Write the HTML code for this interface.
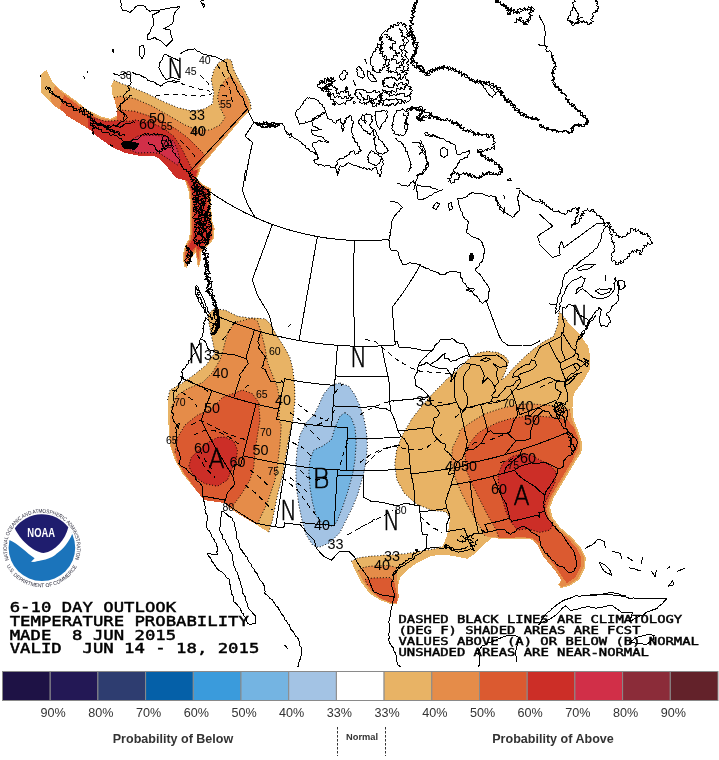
<!DOCTYPE html><html><head><meta charset="utf-8"><title>6-10 Day Outlook Temperature Probability</title>
<style>html,body{margin:0;padding:0;background:#fff}svg{display:block}.l{fill:none;stroke:#000;stroke-width:1;stroke-linejoin:round;stroke-linecap:round}.k{fill:#000;stroke:#000;stroke-width:1}.k2{fill:none;stroke:#000;stroke-width:3;stroke-linecap:round;stroke-linejoin:round}.d{fill:none;stroke:#000;stroke-width:1;stroke-dasharray:5 4}.o{fill:none;stroke:#000;stroke-width:1;stroke-dasharray:1 2}.lab{font-family:"Liberation Sans",sans-serif;fill:#000}.bigl{font-family:"DejaVu Sans Light","DejaVu Sans","Liberation Sans",sans-serif;font-weight:200;fill:#000;stroke:#000;stroke-width:0.6}.mono{font-family:"DejaVu Sans Mono","Liberation Mono",monospace;font-weight:normal;fill:#000;stroke:#000;stroke-width:0.45}.lg{font-family:"Liberation Sans",sans-serif;fill:#333}</style></head><body>
<svg width="719" height="760" viewBox="0 0 719 760">
<rect width="719" height="760" fill="#fff"/>
<defs><clipPath id="mapclip"><rect x="0" y="0" width="719" height="667"/></clipPath></defs>
<g clip-path="url(#mapclip)"><g shape-rendering="crispEdges">
<path d="M213.75,308.75 L225,310 L237.5,316.25 L250,318 L265,318.75 L271.25,325 L276.25,335 L283.75,346.25 L290,357.5 L293,370 L294.5,385 L295,400 L293,420 L290,432 L287.5,445 L283.75,470 L277.5,495 L272.5,520 L268.75,532.5 L255,523.75 L240,515 L228.75,507.5 L225,502.5 L203.75,499.5 L193.75,487.5 L182.5,473.75 L175,460 L170,445 L168.75,430 L168,415 L167.5,400 L170,390 L181.25,383.75 L193.75,375 L206.25,365 L215,352.5 L211.25,335 L207.5,315Z" fill="#e8b365"/>
<path d="M252.5,318 L257.5,321.25 L261.25,332.5 L265,347.5 L267.5,362.5 L272.5,375 L277.5,387.5 L280,402.5 L278.75,420 L281.25,425 L280,445 L277.5,465 L275,480 L267.5,502.5 L257.5,523.75 L255,523.75 L240,515 L228.75,507.5 L225,503 L203.75,500 L193.75,486.25 L183.75,473.75 L176.25,461.25 L171.25,447.5 L169.5,435 L169.5,425 L171.25,407.5 L177.5,395 L187.5,388.75 L202.5,382.5 L212.5,372.5 L220,360 L223.75,347.5 L227.5,332.5 L235,322.5Z" fill="#e58c49"/>
<path d="M242.5,390 L252.5,393.75 L258.75,402.5 L260,420 L257.5,435 L255,452.5 L253.75,467.5 L250,480 L242.5,492.5 L236.25,501.25 L231.25,507.5 L225,503 L203.75,500 L193.75,487 L184.5,473.75 L177.5,461.25 L175,452.5 L177.5,437.5 L185,425 L197.5,415 L210,410 L222.5,397.5Z" fill="#db5a30"/>
<path d="M217.5,437.5 L225,437 L233.75,441.25 L237.5,450 L236.25,460 L231.25,470 L227.5,480 L217.5,486.25 L205,483.75 L193.75,476.25 L188.75,466.25 L191.25,457.5 L200,448.75 L210,441.25Z" fill="#cc2e27"/>
<path d="M340,383 L348.8,386.2 L355,395 L360,406.2 L363.8,417.5 L366.2,430 L367.5,445 L366.2,460 L363.8,472.5 L361.2,482.5 L357.5,495 L352.5,507.5 L346.2,520 L340,532.5 L330,542.5 L318.8,547.5 L312.5,545 L306.2,535 L302.5,522.5 L298.8,505 L296.2,485 L295.8,467.5 L297,450 L300,435 L306.2,422.5 L313.8,415 L318.8,405 L323.8,393.8 L331.2,385Z" fill="#a3c3e4"/>
<path d="M345,412.5 L351.2,417.5 L355,427.5 L356.2,442.5 L355,460 L352.5,475 L347.5,492.5 L342.5,507.5 L337.5,520 L333.8,526.2 L323.8,525 L316.2,516.2 L312.5,502.5 L310,487.5 L308.8,472.5 L310,460 L313.8,450 L322.5,446.2 L331.2,440 L335,427.5 L340,416.2Z" fill="#74b4e2"/>
<path d="M559,311 L567.5,321.5 L578.5,333 L588,346 L590.5,358 L589.5,370 L582.5,382 L573.75,393.75 L572.5,407.5 L573.75,420 L578.75,432.5 L582.5,443.75 L581.25,452.5 L576.25,460 L568.75,472.5 L561.25,485 L553.75,497.5 L550,507.5 L552.5,517.5 L560.2,527.5 L571.9,537.5 L580.8,547.5 L585.8,557.5 L585,567.5 L579.5,579.5 L569.5,585.8 L560.8,588.2 L558.2,584.5 L562,579.5 L555.8,570 L545,557.5 L537.5,545 L532.5,539.7 L522.5,538.5 L510,539.2 L497.5,538.5 L492.5,537.5 L485,543.75 L475,553.75 L467.5,558.75 L455,556.25 L442.5,554.5 L430,556.25 L417.5,562.5 L407.5,570 L400,577.5 L397.5,587.5 L398.75,597.5 L396.25,604.5 L390,603.75 L380,600 L370,593.75 L361.25,582.5 L355,570 L351.25,561.25 L357.5,558 L370,556.25 L387.5,555 L405,553.75 L420,551.25 L435,548.75 L442.5,546.25 L446.25,537.5 L448.75,527.5 L450,518 L446,511.8 L432,510.3 L416.7,504.2 L404.5,493.5 L396.8,479.7 L394.7,464.4 L396.8,449.1 L403,433.8 L412.1,418.5 L422.8,404.7 L435.1,391 L447.3,378.7 L459.6,368 L467.5,360 L477.5,353 L487.5,351.25 L497.5,352.5 L505,356.25 L508.75,361.25 L506.25,370 L501.25,380 L506.25,376.25 L513.75,367.5 L522.5,358.75 L532.5,350 L542.5,342.5 L553.75,336.25 L557.5,325Z" fill="#e8b365"/>
<path d="M570,410 L560,406.25 L545,405 L530,403.75 L515,405 L500,408.75 L485,413.75 L472.5,421.25 L460,430 L458.75,435 L452.5,447.5 L451.25,462.5 L455,477.5 L461.25,492.5 L468.75,507.5 L477.5,522.5 L485,536.25 L497.5,537.7 L510,538.2 L522.5,537.7 L532,538.7 L537,544.5 L544,557.5 L555,570.5 L561.5,580 L559.5,584.5 L561,587 L569,584.5 L578,578.5 L583.5,567 L584,557.5 L579.5,548.5 L571,538.5 L558.9,528.5 L551,518 L548.5,507.5 L552,497.5 L559.5,485 L567,472.5 L574.5,460 L579.5,452 L580.5,443.75 L577,432.5 L572,420Z" fill="#e58c49"/>
<path d="M567.5,420 L555,417.5 L540,416.25 L525,416.25 L510,418.75 L497.5,422.5 L485,428.75 L478,433 L470,442.5 L465,455 L466.25,470 L472.5,485 L480,500 L487.5,515 L496.25,530 L498.75,537.7 L510,537.7 L522.5,537.2 L532.5,538.2 L540,543.75 L547.5,556.25 L557,568.8 L563.2,578.2 L567,583.2 L575.8,577 L580.8,566.2 L581.5,557.5 L577,548.8 L568.2,538.8 L556.7,528.8 L548.75,518.75 L546.25,508.75 L550,497.5 L557.5,485 L565,472.5 L572.5,460 L577.5,448.75 L577.5,437.5 L573.75,427.5Z" fill="#db5a30"/>
<path d="M522.5,453.75 L512.5,456.25 L502.5,463.75 L498,475 L498.75,487.5 L502.5,500 L506.25,512.5 L511.25,522.5 L517.5,530 L527.5,528.75 L540,532.5 L550,530 L552.5,525 L548.75,518.75 L544.5,512.5 L545,502.5 L550,492.5 L555,482.5 L556,472 L550,465 L540,460 L531.25,455Z" fill="#cc2e27"/>
<path d="M361.2,568 L370,566.2 L387.5,565.5 L395.5,567 L397,575 L398,587.5 L398.8,597.5 L396.5,603.5 L391.2,603 L381.2,599 L372,593 L363.8,582.5 L358,571.2Z" fill="#e58c49"/>
<path d="M365,579.5 L372.5,578 L390,577.5 L394.5,582.5 L396.5,592.5 L397.5,602.5 L390,602.5 L380,598 L372.5,591.2 L367.5,585Z" fill="#db5a30"/>
<path d="M41.25,73.75 L46.25,70 L52.5,82.5 L62.5,91.25 L75,100 L87.5,110 L100,116.25 L110,118.75 L117.5,115 L116.25,105 L112.5,95 L111.25,85 L113.75,80 L120,83 L132.5,87.5 L147.5,93.75 L162.5,101.25 L177.5,107.5 L192.5,111.25 L205,108.75 L212.5,103.75 L213.75,92.5 L211.25,80 L213.75,70 L218.75,62.5 L226.25,58.75 L231.25,60 L233.75,70 L238.75,80 L245,91.25 L250,101.25 L251.25,108.75 L245,115 L195,173.75 L201.3,166.8 L197,178.8 L204.7,185.6 L210.7,188.2 L210.7,202.7 L212.4,221.5 L214.6,228.4 L214.1,238.6 L208.1,245.5 L201.3,252.3 L200.4,262.6 L197.9,268.5 L197,260.9 L195.3,252.3 L191,259.1 L186.8,267.7 L184.2,266.8 L182.5,255.7 L185,245.5 L189.3,238.6 L190.2,225 L190.2,204.4 L188.5,190.8 L184.2,178.8 L177.5,175 L167.5,162.5 L160,155 L152.5,152.5 L137.5,152.5 L125,150 L112.5,143.75 L97.5,132.5 L82.5,122.5 L67.5,113.75 L52.5,103.75 L41.25,92.5Z" fill="#e8b365"/>
<path d="M55,86 L62.5,92.5 L75,101 L87.5,111 L100,117.5 L110,120 L117.5,117 L116.5,108 L114,97.5 L120,96.25 L135,98.75 L152.5,106.25 L170,116.25 L185,125 L197.5,130 L210,130 L220,125 L225,117.5 L220,107.5 L217.5,97.5 L220,87.5 L225,80 L231.25,76.25 L237.5,82 L243.5,92 L248.5,101.5 L249.5,108.5 L244,114.5 L195,172.5 L200,167.5 L196,178.8 L204,186 L209.7,188.7 L209.7,202.7 L211.4,221.5 L213.6,228.4 L213.1,238.2 L207.5,244.8 L200.5,251.8 L199.6,262 L198,266 L197.5,260 L195.5,250 L190.5,258 L186.5,266 L185,265.5 L183.5,255.7 L186,245.5 L190.3,238.6 L191.2,225 L191.2,204.4 L189.5,190.8 L185,179.5 L177,176 L167,163.5 L159.5,156 L152.5,153.5 L137.5,153.5 L125,151 L112,144.5 L97,133.5 L82,123.5 L67,114.5 L53,105 L50,98Z" fill="#e58c49"/>
<path d="M64,95 L75,103 L87.5,113 L100,119.5 L110,122 L117,119.5 L116.5,111.5 L120,110 L135,111.25 L150,116.25 L165,122.5 L177.5,130 L187.5,137.5 L195,145 L202.5,152.5 L205,156 L194,171.5 L199,168.5 L195.5,178.8 L203.5,186.5 L208.7,189.2 L208.7,202.7 L210.4,221.5 L212.6,228.4 L212.1,237.8 L206.8,244.2 L199.5,251 L198.6,259 L197.8,259 L195.8,248 L190,256 L187,262 L185.5,261 L184.5,255.7 L187,245.5 L191.3,238.6 L192.2,225 L192.2,204.4 L190.5,190.8 L186,180 L176.5,177 L166.5,164.5 L159,157 L152.5,154.5 L137.5,154.5 L125,152 L111.5,145.5 L96.5,134.5 L81.5,124.5 L66.5,115.5 L60,108Z" fill="#db5a30"/>
<path d="M88,116 L92.5,117.5 L105,121.25 L117.5,120.5 L130,121.25 L135,120 L150,122.5 L162.5,127.5 L173.75,136.25 L181.25,147.5 L186.25,157.5 L191.25,167.5 L193,171 L197.5,169.5 L194.5,178.8 L202.5,187 L207.2,189.8 L207.2,202.7 L208.9,221.5 L211,228.4 L210.5,237 L205.5,243 L198,250 L196.5,246 L192,250 L189.5,255 L187.5,252 L189,245.5 L192.8,238.6 L193.7,225 L193.7,204.4 L192,190.8 L187.5,181 L176,178 L166,165.5 L158.5,158 L152.5,155.5 L137.5,155.5 L125,153 L111,146.5 L96,135.5 L88,128Z" fill="#cc2e27"/>
<path d="M137.5,136.25 L150,135 L165,136.25 L173.75,141.25 L177.5,150 L180,160 L177.5,165 L170,160 L160,153.5 L152.5,152.5 L137.5,153 L127.5,148.75 L130,141.25Z" fill="#d12f48"/>
</g>
<path class="o" d="M167.5,400 L170,390 L181.25,383.75 L193.75,375 L206.25,365 L215,352.5 L211.25,335 L207.5,315 L213.75,308.75 L225,310 L237.5,316.25 L250,318 L265,318.75 L271.25,325 L276.25,335 L283.75,346.25 L290,357.5 L293,370 L294.5,385 L295,400 L293,420 L290,432 L287.5,445 L283.75,470 L277.5,495 L272.5,520 L268.75,532.5"/>
<path class="o" d="M171.25,407.5 L177.5,395 L187.5,388.75 L202.5,382.5 L212.5,372.5 L220,360 L223.75,347.5 L227.5,332.5 L235,322.5 L252.5,318 L257.5,321.25 L261.25,332.5 L265,347.5 L267.5,362.5 L272.5,375 L277.5,387.5 L280,402.5 L278.75,420 L281.25,425 L280,445 L277.5,465 L275,480 L267.5,502.5 L257.5,523.75"/>
<path class="o" d="M175,452.5 L177.5,437.5 L185,425 L197.5,415 L210,410 L222.5,397.5 L242.5,390 L252.5,393.75 L258.75,402.5 L260,420 L257.5,435 L255,452.5 L253.75,467.5 L250,480 L242.5,492.5 L236.25,501.25 L231.25,507.5"/>
<path class="o" d="M217.5,437.5 L225,437 L233.75,441.25 L237.5,450 L236.25,460 L231.25,470 L227.5,480 L217.5,486.25 L205,483.75 L193.75,476.25 L188.75,466.25 L191.25,457.5 L200,448.75 L210,441.25 L217.5,437.5"/>
<path class="o" d="M340,383 L348.8,386.2 L355,395 L360,406.2 L363.8,417.5 L366.2,430 L367.5,445 L366.2,460 L363.8,472.5 L361.2,482.5 L357.5,495 L352.5,507.5 L346.2,520 L340,532.5 L330,542.5 L318.8,547.5 L312.5,545 L306.2,535 L302.5,522.5 L298.8,505 L296.2,485 L295.8,467.5 L297,450 L300,435 L306.2,422.5 L313.8,415 L318.8,405 L323.8,393.8 L331.2,385 L340,383"/>
<path class="o" d="M345,412.5 L351.2,417.5 L355,427.5 L356.2,442.5 L355,460 L352.5,475 L347.5,492.5 L342.5,507.5 L337.5,520 L333.8,526.2 L323.8,525 L316.2,516.2 L312.5,502.5 L310,487.5 L308.8,472.5 L310,460 L313.8,450 L322.5,446.2 L331.2,440 L335,427.5 L340,416.2 L345,412.5"/>
<path class="o" d="M450,518 L446,511.8 L432,510.3 L416.7,504.2 L404.5,493.5 L396.8,479.7 L394.7,464.4 L396.8,449.1 L403,433.8 L412.1,418.5 L422.8,404.7 L435.1,391 L447.3,378.7 L459.6,368 L467.5,360 L477.5,353 L487.5,351.25 L497.5,352.5 L505,356.25 L508.75,361.25 L506.25,370 L501.25,380 L506.25,376.25 L513.75,367.5 L522.5,358.75 L532.5,350 L542.5,342.5 L553.75,336.25 L557.5,325 L559,311 L567.5,321.5"/>
<path class="o" d="M351.25,561.25 L357.5,558 L370,556.25 L387.5,555 L405,553.75 L420,551.25 L435,548.75 L442.5,546.25"/>
<path class="o" d="M570,410 L560,406.25 L545,405 L530,403.75 L515,405 L500,408.75 L485,413.75 L472.5,421.25 L460,430 L458.75,435 L452.5,447.5 L451.25,462.5 L455,477.5 L461.25,492.5 L468.75,507.5 L477.5,522.5 L485,536.25"/>
<path class="o" d="M567.5,420 L555,417.5 L540,416.25 L525,416.25 L510,418.75 L497.5,422.5 L485,428.75 L478,433 L470,442.5 L465,455 L466.25,470 L472.5,485 L480,500 L487.5,515 L496.25,530 L498.75,537.7"/>
<path class="o" d="M522.5,453.75 L512.5,456.25 L502.5,463.75 L498,475 L498.75,487.5 L502.5,500 L506.25,512.5 L511.25,522.5 L517.5,530 L527.5,528.75 L540,532.5 L550,530 L552.5,525 L548.75,518.75 L544.5,512.5 L545,502.5 L550,492.5 L555,482.5 L556,472 L550,465 L540,460 L531.25,455 L522.5,453.75"/>
<path class="o" d="M358,571.2 L361.2,568 L370,566.2 L387.5,565.5 L395.5,567"/>
<path class="o" d="M367.5,585 L365,579.5 L372.5,578 L390,577.5 L394.5,582.5"/>
<path class="o" d="M113.75,80 L120,83 L132.5,87.5 L147.5,93.75 L162.5,101.25 L177.5,107.5 L192.5,111.25 L205,108.75 L212.5,103.75 L213.75,92.5 L211.25,80 L213.75,70 L218.75,62.5 L226.25,58.75 L231.25,60 L233.75,70 L238.75,80 L245,91.25 L250,101.25 L251.25,108.75"/>
<path class="o" d="M114,97.5 L120,96.25 L135,98.75 L152.5,106.25 L170,116.25 L185,125 L197.5,130 L210,130 L220,125 L225,117.5 L220,107.5 L217.5,97.5 L220,87.5 L225,80 L231.25,76.25"/>
<path class="o" d="M116.5,111.5 L120,110 L135,111.25 L150,116.25 L165,122.5 L177.5,130 L187.5,137.5 L195,145 L202.5,152.5 L205,156"/>
<path class="o" d="M88,116 L92.5,117.5 L105,121.25 L117.5,120.5 L130,121.25 L135,120 L150,122.5 L162.5,127.5 L173.75,136.25 L181.25,147.5 L186.25,157.5 L191.25,167.5 L193,171"/>
<path class="o" d="M137.5,136.25 L150,135 L165,136.25 L173.75,141.25 L177.5,150 L180,160 L177.5,165 L170,160 L160,153.5 L152.5,152.5 L137.5,153 L127.5,148.75 L130,141.25 L137.5,136.25"/>
<g shape-rendering="crispEdges">
<path class="l" d="M46.2,86.2 L45.6,88.3 L46.4,89.2 L49.9,87.9 L50.6,88.9 L49.1,91.8 L50.2,92.5 L51.2,93.3 L52.5,93.8 L54,93.9 L54.4,95.6 L55.5,96.3 L56.6,96.9 L58.6,96.2 L59.1,97.9 L60,98.8 L61.3,99.2 L61.6,101 L62.1,102.6 L63.3,103.2 L65.3,102.5 L66.6,102.9 L67.5,103.8 L69,103.9 L70.6,103.9 L71.5,104.7 L71.3,106.8 L72.7,107.1 L73.4,108.1 L73.1,110.4 L75,110 L76.2,110.3 L77.5,110.6 L78.9,109.6 L80.3,108.9 L81.4,110.3 L82.5,111.2 L84.4,110.9 L84.3,112.8 L84,115.1 L85.8,114.9 L88,114.2 L87.1,117.1 L88.3,117.6 L90,117.5 L90.4,119.1 L91,120.4 L92.4,120.8 L93.4,121.7 L95.5,121.2 L96.2,122.5 L96.8,124.8 L98,125.2 L100.5,122.7 L100.9,125.4 L102.5,125 L103.1,126.4 L104.7,126.3 L105.6,127.2 L106.8,127.8 L106.9,130 L108.9,129.3 L110,130 L110.8,131.7 L112.7,130.3 L113.3,132.7 L114.5,133.2 L116.3,131.9 L117.5,132.5 L118.6,133.4 L119.3,135.2 L120.9,135.2 L122.5,134.9 L124.2,134.6 L125,136.2"/>
<path class="l" d="M47.5,87.5 L49.2,87.7 L48.9,89.7 L49.9,90.5 L51.2,91.1 L52.7,91.4 L52.3,93.6 L53.2,94.6 L54.7,94.8 L55.7,95.7 L57.2,96 L57.5,97.5 L59.4,96.9 L59.8,98.6 L60.5,99.9 L62.5,99.3 L62.2,101.9 L64.2,101.1 L65.3,101.9 L66.7,102.1 L66,105.3 L67.5,105.4 L68.3,106.5 L70,106.2 L71,107.1 L72.9,106 L73.7,107.4 L74.5,108.5 L76.2,108 L76.2,110.9 L78.1,109.8 L79.6,109.8 L79.8,112.3 L81.9,110.9 L82.5,112.5 L82.8,114.3 L84.7,113.8 L85.5,114.8 L87,115 L87.7,116.1 L89.3,116 L90.6,116.4 L90.2,119.3 L92.4,118.3 L92.4,120.5 L94.5,119.7 L95,121.2 L95.4,123.1 L96.7,123.5 L98,123.8 L99.1,124.4 L100.6,124.5 L101.5,125.6 L103.5,124.5 L104.1,126.1 L104.7,127.7 L106.8,126.5 L107.5,128 L108.1,129.8 L109.3,130.2 L111,129.3 L112.2,129.7 L113.2,130.5 L114.5,130.8 L114.8,133.1 L116.7,131.9 L118.4,131.4 L119.4,132.1 L120,133.8"/>
<path class="l" d="M80,107.5 L80.3,109.2 L82.4,107.5 L83.4,107.6 L83.1,110.7 L85.1,109 L86.1,109.3 L86.4,111.1 L87.5,111.2 L88.7,111.6 L88.6,113.6 L90.7,112.7 L90.3,115.2 L92.4,114.4 L93,115.5"/>
<path class="l" d="M113.8,73.8 L115.8,74.4 L117.9,75 L120,75 L122.7,74.2 L125,72.5 L127.2,74.4 L130,75 L130,77.6 L130.1,80.1 L131.2,82.5 L129.9,84.9 L127.5,86.2 L128.8,88.1 L130,90 L127.5,91.1 L125.7,93.1 L123.8,95 L123.8,97.6 L125,100 L123.8,102.1 L121.7,103.4 L120,105 L119.1,107.1 L117.5,108.8 L119.1,110.1 L120.8,111.4 L122.5,112.5 L124.7,113.6 L126.2,115.5 L127.5,117.5 L125,120 L123.3,121.5 L120.9,121.9 L119.1,123.4 L117.5,125 L115.6,125.8 L113.4,125 L111.6,126.3 L109.5,125.8 L107.5,126.2 L105.4,126.6 L103.4,126.5 L101.6,124.9 L99.4,125.7 L97.5,125"/>
<path class="l" d="M132.5,72.5 L134.9,73.8 L137.3,74.7 L140,75 L141.9,76.2 L144,77.2 L146.1,78.1 L147.5,80 L149.9,81.1 L152.5,81.6 L155,82.5 L156.4,84.1 L158.5,84.8 L160,86.2 L162.1,85.3 L163.5,83.4 L165.9,82.9 L167.5,81.2 L169.9,82 L172.5,81.9 L175,82.5 L177.4,81.9 L179.8,81.2"/>
<path class="l" d="M179.8,61.2 L175,58.8 L171.6,57.3 L168.1,55.8 L165,53.8 L163.2,56.6 L162.1,59.9 L160,62.5 L158.8,67.5 L160.6,71.3 L162.5,75 L164.5,77.4 L166.2,80 L169.2,78.3 L172.5,77.5 L176.1,78.8 L179.8,80"/>
<path class="l" d="M120,0 L121.2,3.2 L121,6.8 L122.5,10 L126.4,10.8 L130,12.5 L133.3,9.6 L136.2,6.2 L139.2,5 L142.5,5 L145.2,6.8 L147.1,9.7 L150,11.2 L153.3,10.4 L156.7,10.6 L160,10 L163.3,9.3 L166.6,8.7 L169.9,8.1 L173.1,7 L176.6,7.3 L179.8,6.2"/>
<path class="l" d="M160,11.2 L156.3,13.1 L152.5,15 L153.1,18.3 L153.9,21.6 L153.8,25 L151.3,28.1 L150.2,32 L147.5,35 L147.5,40 L151.3,38.8 L155,37.5 L157.2,39.6 L160.3,40.3 L162.5,42.5 L166.2,46.2 L169.4,43.2 L172.5,40 L171.8,36.6 L170.2,33.5 L170,30 L166.9,29.6 L163.8,28.8 L166.8,27.4 L169.6,25.4 L172.5,23.8 L173.6,20.1 L173.7,16.2 L175,12.5 L177.1,9.7 L179.8,7.5"/>
<path class="l" d="M140,46.2 L143.8,45 L144.5,53.8 L142,58.8 L139.5,55 L140,46.2"/>
<path class="l" d="M112.5,50 L114,49.5 L113.2,53 L112.5,50"/>
<path class="l" d="M87,71.2 L88,72.5"/>
<path class="l" d="M83.2,76.2 L84.5,78"/>
<path class="l" d="M110.5,144.5 L112.5,146"/>
<path class="l" d="M92,129.5 L94,132.5"/>
<path class="l" d="M40,75 L40.8,76.2"/>
<path class="l" d="M180,53.8 L183.7,51.8 L187.5,50 L191.3,49.5 L195,48.8 L197.2,51 L200,52.1 L202.5,53.8 L205.8,54.6 L209.1,55.5 L212.5,56.2 L216.4,57.1 L220,58.8 L223.1,60.7 L226.2,62.5 L226.9,65.9 L227.5,69.3 L228.8,72.5 L231.2,76 L232.5,80 L234.3,83 L236.2,86 L236.8,89.6 L238.8,92.5 L240.2,95.2 L242.7,97.1 L243.8,100 L244.4,103.2 L245.7,106.1 L247.5,108.8 L248.6,112 L250,115 L251.8,118.8 L253.8,122.5 L257,122.7 L260,123.8 L263.9,123.7 L267.5,125 L271.2,125 L275,125 L278.7,123.8 L282.5,123.8 L284.2,126.7 L285,130 L287.8,132.9 L290,136.2"/>
<path class="l" d="M255,122.5 L256.5,123 L257.9,123.7 L259.4,124.3 L261.2,124 L262.5,125 L263.9,124 L265.5,124.3 L266.9,123.9 L268.6,124.5 L270,123.8 L271.4,124.6 L273,124.9 L274.5,125.3 L275.9,126 L277.5,126.2 L276,126.9 L274.5,126.6 L273,127.1 L271.4,126.1 L270.1,127.6 L268.5,126.5 L267.1,127.8 L265.5,126.9 L264,127.6 L262.5,127.5 L260.8,126.8 L259.4,125.3 L257.5,125 L259,123.8 L260.7,123.5 L262.7,124.4 L264.2,123.3 L265.7,122.3 L267.5,122.5 L268.9,123.5 L270.5,123.7 L272.3,122.6 L273.8,123.4 L275.4,123.2 L276.9,123.7 L278.4,124.4 L280,124.5"/>
<path class="l" d="M247.5,108.8 L188.8,172.5 L192.5,180 L195,189.8"/>
<path class="l" d="M253.8,122.5 L245,136.2 L252.5,142.5 L248.8,160 L246.2,175 L245.5,180.5"/>
<path class="l" d="M200,1.2 L203.8,0"/>
<path class="l" d="M201.2,2.5 L205,5 L203.8,7.5 L201.2,2.5"/>
<path class="l" d="M216.3,315.8 L222.3,318.3 L228.4,320.7 L234.5,323.1 L240.7,325.3 L246.9,327.4 L253.1,329.4 L259.4,331.3 L265.7,333.1 L272,334.7 L278.3,336.3 L284.7,337.7 L291.1,339.1 L297.6,340.3 L304,341.4 L310.5,342.4 L316.9,343.3 L323.4,344 L330,344.7 L336.5,345.2 L343,345.7 L349.5,346 L356.1,346.2 L362.6,346.2 L369.2,346.2 L375.7,346.1 L382.2,345.8 L388.8,345.4 L395.3,344.9"/>
<path class="l" d="M254.5,329.8 L250.7,342.1 L246.9,354.5 L246.5,358.8"/>
<path class="l" d="M246.5,358.8 L239.6,356.6 L232.7,354.3 L230.4,354.3 L221.6,353.6 L216.6,352.8 L212.3,350.2 L208.6,349.9 L207.1,346.2 L205.7,342.3 L204.1,340.5 L200.9,339.1"/>
<path class="l" d="M246.5,358.8 L248.2,363.6 L245.9,366.1 L243.1,370.5 L239.5,374.8 L240.5,376.7 L239.2,380 L233.7,397.9"/>
<path class="l" d="M260.7,331.7 L257.9,341.4 L259.4,344.8 L258.2,347.6 L262.4,352.9 L265.5,357.3 L263.7,361.6 L263.2,365.1 L261.4,367.8 L265.3,369.8 L268.6,377.4 L271,381.6 L274.7,381.9 L280.5,382.6 L281.8,380.8 L283.6,384"/>
<path class="l" d="M284.6,378.8 L282.6,388.8 L280.6,398.9 L278.7,409.1 L276.6,419.4 L284.4,420.8 L292.3,422.2"/>
<path class="l" d="M181.8,378.3 L188.9,381.5 L196.2,384.5 L203.5,387.4 L210.8,390.1 L218.2,392.8 L225.6,395.3 L233.1,397.7 L240.6,399.9 L248.1,402 L255.7,404 L263.3,405.8 L271,407.5 L278.7,409.1"/>
<path class="l" d="M284.6,378.8 L291.7,380.1 L298.8,381.3 L305.9,382.4 L313.1,383.3 L320.2,384.1 L327.4,384.8 L334.6,385.4"/>
<path class="l" d="M337.4,345.3 L336.7,355.2 L336,365.2 L335.3,375.3 L334.6,385.4 L333.9,395.6 L333.1,405.9 L332.4,416.3 L331.6,426.7"/>
<path class="l" d="M335.3,375.9 L342.8,376.3 L350.3,376.7 L357.8,376.9 L365.4,376.9 L372.9,376.8 L380.4,376.6 L388,376.2"/>
<path class="l" d="M333.1,405.9 L341.5,406.4 L349.9,406.8 L358.3,407 L366.7,407 L375.1,406.9 L379.7,408.3 L385,408 L388.9,410.4 L390.9,411.4"/>
<path class="l" d="M292.3,422.2 L300.1,423.3 L308,424.4 L315.8,425.3 L323.7,426.1 L331.6,426.7 L339.6,427.2 L347.5,427.6 L347.1,438.1 L356.2,438.3 L365.4,438.4 L374.5,438.3 L383.6,438 L392.7,437.5 L401.8,436.9"/>
<path class="l" d="M292.3,422.2 L290.6,432.6 L288.9,443.1 L287.2,453.7 L285.5,464.4 L283.6,476.6 L281.6,488.9 L279.6,501.4 L277.6,514 L275.6,526.8"/>
<path class="l" d="M347.1,438.1 L346.7,448.7 L346.4,459.5 L346,470.3"/>
<path class="l" d="M256,404.1 L253.5,414.2 L250.9,424.5 L248.3,434.8 L245.7,445.2 L243.1,455.7 L240.7,465.2 L234.8,464.8 L233.2,474.6 L232.6,475.6 L234.9,484.2 L227.5,492.7 L225.3,500.1"/>
<path class="l" d="M243.1,455.7 L251.7,457.8 L260.4,459.7 L269.1,461.5 L277.8,463.1 L286.6,464.5 L295.3,465.8 L304.1,467 L312.9,468 L321.8,468.8 L330.6,469.5 L339.5,470 L348.3,470.3 L357.2,470.5 L366.1,470.6 L374.9,470.5 L383.8,470.2 L392.7,469.8 L401.5,469.2 L410.3,468.4"/>
<path class="l" d="M211.9,390.6 L208.3,400.4 L204.7,410.3 L201.1,420.3 L206.7,431.4 L212.6,442.5 L219,453.5 L225.6,464.6 L232.6,475.6"/>
<path class="l" d="M202.8,495.9 L214,498.1 L225.3,500.1 L224,502.3 L234.4,509.5 L245.2,516.5 L256.1,523.3 L269.9,525.9 L283.8,528 L284.5,523 L300.6,525"/>
<path class="l" d="M300,522.4 L311.4,523.7 L322.8,524.6 L334.2,525.4 L334.9,512.7 L335.7,500.1 L336.4,487.6 L337.1,475.3 L337.7,469.9"/>
<path class="l" d="M337.1,475.3 L345.9,475.7 L354.8,475.9 L363.7,476 L363.7,497.4 L371.1,501.3 L381.3,502.2 L389.7,504.1 L397.2,505.9 L405.4,503.1 L415,505.2 L419.3,505.8 L419.9,511.9 L421.1,523.2 L422.3,534.6 L427.1,534 L426.6,543.4 L425.8,549.3"/>
<path class="l" d="M410.9,473.8 L413.7,485.7 L415,505.2"/>
<path class="l" d="M419.9,511.9 L433.4,510.4 L446.8,508.4"/>
<path class="l" d="M300.6,525 L308.6,534.9 L314.1,540 L316.4,548.3 L323,555.8 L331.4,560.1 L339.5,551.5 L348.6,551.3 L354,556.6 L358.5,564.3 L367.9,577.3 L373.4,591.6 L383.2,595.6 L394.7,596.4"/>
<path class="l" d="M410.3,468.4 L409.4,457.1 L408.4,445.9 L404.4,438.8 L401.8,436.9 L397.7,430.8 L396,423.6 L393.2,416.4 L390.9,411.4 L390.2,406.2 L389.5,401.1 L389.1,382.6 L388,376.2 L385.9,366.6 L383.5,355.7 L381.8,345.8"/>
<path class="l" d="M389.5,401.1 L397.5,400.5 L405.4,399.8 L413.4,399 L421.3,398 L429.1,396.8"/>
<path class="l" d="M397.7,431 L405.8,430.3 L413.8,429.4 L421.7,428.5 L429.7,427.3 L432.5,429.2"/>
<path class="l" d="M410.3,468.4 L410.9,473.8 L420.6,472.8 L430.3,471.6 L440,470.2 L449.7,468.7 L448.6,474.4 L454.6,473.3"/>
<path class="l" d="M418.2,365.5 L417.6,371.7 L414.1,377.2 L415.9,380.1 L415.8,385.7 L419.8,387.8 L425.6,392.2 L429.1,396.8 L431.7,404.8 L435,406.4 L439.7,413 L437.9,416.5 L433.8,418.2 L434.2,423.4 L432.5,429.2 L433.2,434.3 L437.5,439 L442.4,443.6 L445.7,444.1 L444.6,449.8 L449.2,453.3 L453.7,459.1 L457.5,461.9 L455.3,467.6 L454.6,473.3 L452.2,480.5 L451.2,485.1 L448,493.5 L445.5,501.8 L446.8,508.4 L450.1,515.9 L446.6,524.6 L446.1,531.6 L464.3,528.6 L467.7,537.3"/>
<path class="l" d="M469.9,481.6 L471.8,496.5 L473.7,511.7 L478.5,532.9"/>
<path class="l" d="M451.2,485.1 L460.4,483.5 L469.5,481.7 L478.6,479.7 L487.7,477.5 L496.7,475.2 L505.7,472.8 L514.6,470.1"/>
<path class="l" d="M492.8,476.2 L497.6,487.1 L502.5,498 L506.4,504 L509.7,518.4 L511.9,521.3 L524.8,518.3 L537.6,515 L539.9,517.3 L538.9,512.8 L544.3,511.5"/>
<path class="l" d="M509.7,518.4 L497.3,521.6 L484.9,524.5 L488.1,532"/>
<path class="l" d="M456.2,467.5 L467.8,465.2 L467.3,463.6 L476.7,461.7 L486.1,459.6 L495.4,457.3 L504.7,454.8 L513,452.3 L521.4,449.6 L531,446.4 L540.5,443 L550,439.5 L559.4,435.7 L568.8,431.8"/>
<path class="l" d="M521.4,449.6 L520.4,455.6 L515.8,458.8 L510.7,463.3 L506.2,466.9 L504,473.2"/>
<path class="l" d="M514.6,470.1 L520.9,465.9 L531.8,462.9 L533.6,464 L544.9,462.3 L558.2,468.5"/>
<path class="l" d="M514.6,470.1 L518,474.9 L523.2,479.1 L529.3,483 L535.5,486.9 L540,491.4 L544.9,495.1"/>
<path class="l" d="M457.5,461.9 L462.4,458.5 L465.3,451.3 L468.4,449.5 L473.6,449.4 L477.3,446.4 L482.3,441.8 L484.4,436.8 L488.2,431.4 L490.6,430.8 L494,433.7 L501.6,433.1 L507.9,433.5 L510.4,430.4 L512.3,425.3 L514.1,420.2 L517.3,415.7 L516.8,408.1 L516.6,405.5 L510.8,389.1"/>
<path class="l" d="M507.9,433.5 L515.8,440.8 L504.7,454.8"/>
<path class="l" d="M515.8,440.8 L522.9,441 L530.2,438.5 L530.9,430.2 L533.4,422.4 L537.3,416.3 L542.9,410.6"/>
<path class="l" d="M465.3,451.3 L467.4,440.9 L465.6,434.2 L462.9,421.7 L460.2,409.4"/>
<path class="l" d="M488,431.5 L484.4,418.1 L480.8,405"/>
<path class="l" d="M465.7,408.1 L480.7,404.3 L491,401.7"/>
<path class="l" d="M435,406.4 L445.8,404.5 L456.5,402.3"/>
<path class="l" d="M430,365.2 L440.6,368.9 L446.3,368.3 L447.3,369.6 L452.2,375.9"/>
<path class="l" d="M516.4,387.4 L517.4,390 L525.3,387 L533.3,383.8 L541.1,380.5 L548.9,377 L556.4,381 L555.1,386.3 L555.7,388.9 L561.2,392.1 L558.7,397.4 L557.5,399.7"/>
<path class="l" d="M516.6,405.5 L519.8,414.6 L528.9,411.3 L537.9,407.8 L546.8,404.1 L555.7,400.3 L561.9,412.3 L566.9,410.1"/>
<path class="l" d="M556.4,381 L563.7,381.6"/>
<path class="l" d="M527.8,411.7 L529.7,416.9 L532.9,412.9 L537.1,409 L540.3,408.2 L542.9,410.6 L549,412.1 L552.3,417.7 L559.2,418.8"/>
<path class="l" d="M549,342.6 L555.1,355.6 L560,363 L561.6,370.3 L564.8,377.5 L565.5,380.7"/>
<path class="l" d="M560.9,336.5 L561.9,342.9 L562,351 L565.5,360.4"/>
<path class="l" d="M560,363 L573.3,356.3 L575.8,353.2"/>
<path class="l" d="M561.6,370.3 L573.4,364.5 L576.4,363.2 L580.7,366.9"/>
<path class="l" d="M573.4,364.5 L577,371.2"/>
<path class="l" d="M575.6,351 L571.2,347.2 L562,332.3 L563.7,332 L564.2,324.1 L562.9,319.1 L562.5,307.1 L565.7,308.3 L568.3,304.7 L572.8,305.2 L578.8,314.8 L582.7,316.5 L587,319.2 L590.2,321.4"/>
<path class="l" d="M562,332.3 L560.9,336.5 L554.1,340.1 L547.2,343.5 L540.3,346.9 L534.7,357.3"/>
<path class="l" d="M195.5,180.8 L199.1,183.7 L202.8,186.6 L206.6,189.4 L210.4,192.1 L214.3,194.8 L218.2,197.4 L222.2,199.9 L226.2,202.4 L230.2,204.7 L234.3,207.1 L238.4,209.3 L242.6,211.5 L246.8,213.6 L251,215.6 L255.3,217.5 L259.6,219.4 L263.9,221.2 L268.3,222.9 L272.7,224.5 L277.1,226.1 L281.5,227.6 L286,229 L290.5,230.3 L295,231.6 L299.6,232.7 L304.1,233.8 L308.7,234.8 L313.3,235.8 L317.9,236.6 L322.5,237.4 L327.2,238.1 L331.8,238.7 L336.5,239.2 L341.2,239.6 L345.9,240 L350.5,240.3 L355.2,240.5 L359.9,240.6 L364.6,240.6 L369.3,240.5 L374,240.4 L378.7,240.2 L383.3,239.9 L388,239.5"/>
<path class="l" d="M272.4,224.5 L269.1,233.5 L265.8,242.7 L262.5,251.8 L259.1,261 L255.7,270.3 L252.3,279.6 L255.2,288.8 L257.8,295.9 L263.1,304.7 L267,310.9 L269.8,316.8 L271.7,324.4 L273.1,335"/>
<path class="l" d="M317.4,236.5 L315.8,245.7 L314.1,255 L312.5,264.3 L310.9,273.6 L309.2,283 L307.5,292.5 L305.8,302 L304.2,311.5 L302.5,321.1 L300.7,330.8 L299,340.6"/>
<path class="l" d="M354.5,240.4 L354.1,250.2 L353.8,260.1 L353.4,270 L353.1,280 L353.3,289.6 L353.5,299.2 L353.8,308.8 L354.1,321.2 L354.5,333.6 L354.9,346.1"/>
<path class="l" d="M395.3,344.9 L394.2,332.3 L393.2,319.9 L392.1,307.5 L397.4,300.5 L402.5,293.5 L407.4,286.3 L411.9,279.2 L416.3,272 L420.4,264.8"/>
<path class="l" d="M539.8,340.9 L531.7,345.3 L522.2,345 L509,346 L502,341.1 L499.3,336.3 L494.7,324.1 L490.3,312.1 L485.8,300.1"/>
<path class="l" d="M255.1,217.5 L251,210.4 L247.1,203.3 L244.7,196.9 L242.5,190.4 L244.1,180.7 L245.3,170.7"/>
<path class="l" d="M205.2,317.6 L205.2,320.1 L203.7,322.2 L204.2,324.4 L203.6,326.5 L203,328.5 L203.7,330.7 L203,332.8 L202.8,335.1 L201.8,337.1 L200.6,339 L199.3,341.2 L199.4,343.9 L198,346.1 L196.6,347.9 L195.6,350 L195.2,352.5 L193.6,354.2 L192.4,356 L191.3,357.9 L190.2,359.7 L188.2,361 L188.2,363.6 L186.5,365.1 L185.2,367.8 L182.7,369.6 L181.8,371.7 L182.4,374 L182.5,376.2 L181.8,378.3 L181.3,380.3 L180.4,382.3 L178.7,383.8 L179,386.2 L177.8,388 L176.7,389.8 L174.9,391 L173.6,392.6 L173.6,394.8 L173,397 L173.3,399.2 L174.2,401.4 L174,403.6 L173.8,405.8 L172.2,407.6 L172.1,409.8 L171.6,412.2 L173.5,414.2 L172.7,416.6 L172.8,418.8 L173.7,421 L175.1,423 L176.8,424.7 L175.6,427.7 L176.5,430 L176,432.5 L176.9,434.7 L176.4,436.7 L176.7,438.7 L175.4,441.7 L176.5,443.7 L176.4,446.1 L177.6,448 L177.8,450.3 L179.4,452.3 L179.8,454.8 L180.4,457.2 L180.2,459.3 L179.6,461.4 L179,463.4 L180.1,465.4 L182.1,466.6 L184.1,467.8 L186.5,468.3 L187.3,470.4 L188.6,472.1 L190.6,473.3 L192.6,475.4 L195.5,476.2 L195.5,479.1 L197.2,481 L199.4,482.2 L200.7,484 L201.9,485.8 L202.5,487.9 L202.2,490.8 L202.2,493.7 L202.8,495.9 L203.2,498.2 L203.5,500.6 L204.9,502.7 L204.7,505.1 L205.6,507.1 L204.8,509.5 L205.7,511.5 L206,513.6 L207.3,515.6 L207.1,517.8 L207.2,520.2 L206.3,522.5 L206.7,524.9 L206.9,527.3 L207.3,529.5 L209.5,530.7 L210.2,532.7 L211.2,534.6 L212.1,537 L213.8,538.9 L214.6,541.3 L216.3,543.2 L216.5,545.5 L217.5,547.6 L217.8,549.9 L216.7,552.3 L217.7,554.5 L215.7,554.9 L213.7,554.7 L211.7,554.3 L209.7,553.5 L207.7,553.7 L208.3,555.8 L209.9,557.3 L210.9,559.1 L211.6,561.2 L213.3,562.6 L214.1,564.6 L215.5,566 L216.5,567.8 L217.8,569.4 L219.2,570.8 L221.4,571.7 L223,573.2 L224.6,574.6 L225.7,576.7 L227.4,578.1 L229.3,579.3 L229,581.7 L229.7,584 L230.9,586.2 L230.5,588.7 L231.3,590.9 L231,593.2 L232.5,595 L233.4,597 L233.3,599.3 L233.6,601.4 L235.3,603 L237,604.7 L238.6,606.4 L240,608.3 L241,610.5 L241.5,612.6 L243.6,613.8 L243.8,616 L245.4,617.5 L246.4,619.3 L246.5,621.6 L247.9,623.2 L249.9,625 L252.6,623.8 L255.5,623.2 L255.2,621.1 L255.8,619.1 L256,617 L254.7,615 L252.9,613.4 L251.8,611.3 L249.7,610 L248.3,608.1 L247.6,605.8 L247.2,603.3 L246.1,601.1 L245.5,598.8 L245.1,596.7 L244,594.8 L242.7,593 L242,591 L242.3,588.6 L241.1,586.8 L241,584.7 L240.8,582.7 L239.8,580.8 L239.2,578.9 L238,577.1 L238,575 L237.7,572.7 L235.8,571 L235.4,568.7 L234.1,566.7 L233.8,564.4 L233.2,562.1 L232.6,559.9 L232.3,557.5 L232.3,555.1 L231.5,552.9 L230.3,550.8 L228.7,548.9 L228.2,546.4 L226.6,544.5 L225.9,542.3 L224.9,540.1 L222.7,538.6 L222.5,536.1 L221.8,533.9 L220.2,532.1 L219.8,529.7 L219.8,527.3 L220.8,525 L220.1,522.6 L220.3,520.2 L220.5,517.9 L221.5,515.7 L221.1,513.3 L221.6,511.1 L223.7,511.9 L225.6,513.2 L227.3,514.6 L228.9,516.4 L231.1,517.2 L232.8,518.6 L232.9,520.7 L234.6,522.5 L234.8,524.6 L234.8,526.7 L235.5,528.7 L236,531.2 L236.4,533.6 L236.9,536.1 L236.8,538.5 L238.3,540.6 L239,542.8 L239.8,545 L239.6,547.5 L240.7,549.2 L242.1,550.7 L243,552.5 L244.7,553.8 L245.2,555.9 L247.1,557.2 L247.9,559.3 L248.6,561.4 L250.2,562.9 L251.5,564.5 L251.7,566.8 L253.3,568.2 L254.6,569.8 L255.1,571.9 L256.9,573.2 L257.6,575.2 L258.7,577.2 L259.5,579.3 L261.1,580.9 L262.6,582.6 L263.6,584.7 L264.6,586.8 L264.1,589.1 L265.1,591.2 L264.9,593.5 L266.9,594.9 L268.6,596.6 L270,598.6 L272.3,599.6 L273.4,601.7 L274.9,603.5 L275.7,605.7 L277.8,607.1 L278.8,609.2 L280.1,610.9 L280.8,612.9 L282,614.5 L283.6,616 L284.4,617.9 L285,620 L286.8,621.2 L287.3,623.4 L289.3,624.6 L289.8,626.7 L290.5,628.9 L292.1,630.5 L293.8,632 L294.2,634.4 L295.7,636.1 L297.4,637.6 L298.7,639.4 L299.1,641.4 L299.5,643.5 L299.4,645.8 L301.4,647.3 L301.5,649.5 L301.9,651.6 L301.2,653.6 L301.3,655.7 L300.4,657.6 L300,659.6 L299.1,661.8 L298.4,664 L298.1,666.4 L296.7,668.4"/>
<path class="l" d="M205.2,317.6 L208.1,319.7 L210.5,322.5 L213.4,323.7 L216.1,325.4 L216.4,331 L212.6,334.8 L216.7,331.1 L219.1,327.8 L219.2,322.4 L219.5,317.2"/>
<path class="l" d="M176.8,424.7 L178.7,429 L179.2,423.3 L177.2,424.2"/>
<path class="l" d="M397.5,664.4 L397,662.3 L396.6,660.1 L396.5,657.9 L396.1,655.8 L395.6,653.7 L394.5,651.7 L393.3,649.8 L393.1,647.4 L391.3,645.8 L390.1,643.8 L389.3,641.7 L388.7,639.6 L389.3,637.4 L388.7,635.3 L388.9,633.1 L389.5,631 L389.7,628.8 L389.3,626.7 L389.8,624.7 L388.9,622.6 L389,620.6 L389.5,618.6 L390.1,616.6 L390.7,614.7 L390.7,612.6 L390.4,610.6 L391.7,608.8 L391.8,606.6 L392.5,604.6 L392.5,602.4 L393.2,600.4 L393.6,598.3 L394.7,596.4 L394.2,594.3 L393.8,592.2 L393.2,590.1 L392.3,588.1 L391.8,586 L391.4,583.9 L391.6,581.9 L393,580.2 L393.1,578.1 L393.9,576.2 L394.1,574.2 L395.8,573 L396.6,571 L397.8,569.3 L399.4,568 L401,566.7 L403.2,566.1 L404.9,564.9 L406.4,563.2 L408.5,562.6 L410,560.9 L411.9,560 L414,558.7 L414.9,556.1 L417.1,554.9 L419,554.1 L421,553.3 L422.3,551.4 L424,550.4 L425.8,549.3 L427.8,548.3 L429.9,548.1 L432,547.7 L434.2,547.7 L436.3,547.7 L438.5,547.7 L440.5,548.4 L442.5,549 L444.4,547.9 L446.5,548.1 L448.5,547.6 L450.3,549 L452,550.6 L454.3,550.7 L456.3,551.7 L458.8,552.2 L461.1,551 L463.5,551.1 L465.8,550.3 L468.2,550.1 L470.3,548.7 L472.1,549.9 L474.3,550.3 L472.1,547.2 L471.3,544.7 L469.3,543 L468.5,540.7 L467.4,538.6 L470,535.7 L472.1,535.3 L473.7,533.9 L476.1,533 L478.7,533.4 L482.3,533.9 L482.2,531.5 L481.4,529.3 L483.4,530.8 L485.1,532.7 L488.1,532 L490.3,531.1 L492.8,531.1 L495,530.3 L497.2,529.3 L499.3,529.3 L501.4,529.5 L503.5,529.6 L505.6,530.2 L506.7,532.1 L508.6,533.1 L510.3,534.4 L512.2,532.9 L514.4,532.1 L516.1,530.7 L517.3,528.6 L519.5,527.7 L522.7,526.2 L525.1,527 L527.2,528.5 L529.5,529.7 L530.9,531.8 L532.9,533.1 L535.1,534.1 L537.1,535.4 L539.1,536.5 L539.1,538.9 L540.2,541.2 L540.2,543.6 L541.3,546.4 L542.9,548.9 L544.1,551 L545,553 L547.4,553.5 L548,555.8 L549.9,556.8 L551.1,559.3 L553.4,560.7 L555.2,562.1 L556.3,564.2 L558.3,565.4 L560,566.8 L562.2,566.7 L564.3,567.8 L565.6,569.7 L567.1,571.4 L568.9,572.8 L571.7,572.3 L574.1,571 L574.8,568.8 L576.2,567 L576.6,564.6 L576.2,562.2 L576,559.9 L575.7,557.7 L575,555.5 L574.7,553.3 L573.6,551.2 L572.3,549.1 L570.7,547.2 L569.1,545.2 L567.7,543.2 L566.4,541.3 L565.2,539.3 L564,537.3 L562.7,535.5 L561.6,533.4 L559.3,532.2 L557.7,530.3 L555.9,528.5 L555,526.3 L552.8,525.3 L552.2,522.8 L550.5,521.3 L548.7,519.9 L547.5,517.8 L546.1,515.9 L545.9,513.3 L544.3,511.5 L544.9,509.1 L543.7,506.8 L544.1,504.4 L543.7,502.1 L544.5,499.8 L544.7,497.5 L544.9,495.1 L545.4,492.6 L546.7,490.5 L548.1,488.5 L549.7,486.8 L550.8,484.6 L552.1,482.9 L553.2,481.2 L553.8,479.1 L555.2,477.5 L556.5,475.4 L557.1,473.1 L557.4,470.7 L558.2,468.5 L560.8,468.1 L563,466.6 L563,463.7 L563.7,460.9 L565.3,459.1 L566.8,457.3 L568.3,455.4 L570.5,455.3 L572.1,453.8 L573.8,452.1 L574.1,449.5 L575.9,447.8 L576.3,445.3 L577.7,443.4 L577.3,441.3 L576.4,439.5 L574.9,438 L573.6,436.2 L571.4,435.4 L570.2,433.5 L569,431.7 L567.2,430.3 L566.2,428.2 L563.6,428.7 L562.7,426.7 L561.2,425.1 L561,422.8 L559.3,421.3 L558.8,419 L557.2,417.4 L556.7,415.2 L556.3,413 L554.9,411.3 L553.8,409.5 L554.8,407.1 L554.7,404.4 L554.5,406.7 L555.7,408.7 L556.3,411.3 L557.1,413.9 L559.1,415.2 L561.5,415.5 L564.3,417.7 L564.7,419.8 L564.7,421.9 L565.7,423.9 L565.5,426.1 L565.8,423.7 L565.6,421.2 L566.6,418.9 L567,416.5 L567.7,414.4 L567.7,412.2 L566.9,410.1 L564.9,406.8 L562.9,404.6 L560.4,403 L558.6,402.1 L562.4,403.3 L565.4,404.9 L565.4,402.6 L567.5,400.9 L567.4,398.6 L567.4,396.5 L567.5,394.3 L567.2,392.2 L566.2,389.7 L565.5,387.1 L564.5,385.9 L564.2,382.5 L565.5,380.7 L567.2,379.3 L568,377.2 L569.6,375.7 L571,374 L573.1,373.4 L574.9,372.3 L576.6,370.5 L578.9,369.6 L579.1,367.7 L581.5,366.4 L583.7,364.6 L585.7,362.9 L588.1,362 L587.8,360.8 L585.8,359.8 L584.5,358.1 L583.7,358.3 L586.8,359.8 L583.7,362.2 L581,360.7 L577.5,359.1 L578.3,356.8 L578.4,354.4 L575.8,353.2 L575.6,351 L576.1,348.3 L576,345.6 L576.3,343 L577.5,340.6 L579.5,338.9 L581.1,336.7 L581.6,334.4 L584,333.3 L584.6,331 L585.9,328.5 L587.8,326.5 L589,324 L590.2,321.4"/>
<path class="l" d="M565.6,385.5 L570.3,382.4 L574.3,378 L577.7,373.6 L574.3,374.4 L572.3,376.6 L570.3,378.9 L565.6,381.8 L565.6,385.5"/>
<path class="l" d="M418.1,365 L420.5,361.8 L423.1,358.7 L426.2,356.2 L428.7,353.2 L433.2,349.9 L434.8,345.5 L438.8,342.2 L440.2,339.4 L443.2,339.9 L446.3,339.6 L449.6,339.4 L452.8,338.6 L457.2,342.6 L460.5,343.2 L463.9,343.4 L465.3,346.5 L467.3,349.2 L468.3,353.1 L470.1,356.8 L466.1,355.3 L463.3,356.8 L460.3,357.6 L456,360.4 L450.4,361.2 L447.7,358.2 L444.3,358.9 L444.8,355.9 L445.1,352.9 L441,356.5 L438.8,358.9 L436.3,361 L433,362.7 L429.9,364.7 L426,361.8 L424.3,364.6 L418.9,365.4"/>
<path class="l" d="M470.3,364.1 L465.2,362.8 L462.2,364 L459.3,365.4 L457.1,368.5 L454.6,368.5 L453.7,372.3 L452.2,375.9 L451.3,378.9 L450.6,382 L454.1,377.5 L456.3,372.8 L455.4,375.7 L454.7,378.7 L454.3,381.7 L454.4,385.6 L454.5,389.5 L454.5,393.2 L454.7,396.9 L456.5,402.3 L458,405.2 L459.3,408.1 L462.6,410.3 L465.7,408.2 L467.7,402.9 L467.3,398.7 L466.8,394.6 L464.8,391.4 L463.3,388 L463.4,384.9 L463.3,381.7 L463.6,376.9 L465,374.2 L466.3,371.4 L469.6,368.5 L470.3,364.3 L474.4,364.5 L480.1,366.1 L481.8,369.3 L483.2,372.6 L484.2,376 L483.3,379.5 L482.1,383.6 L485.7,379.9 L487.7,377.6 L490,379.8 L492.2,382.2 L494.7,386.8 L495.4,390.9 L491.9,395.3 L492.3,397.9 L491,401.7 L494.1,402.2 L497.3,402.3 L501,401.1 L504.8,399.9 L507.5,397.7 L509.9,395.2 L512.1,392.5 L514.3,389.5 L517.4,386.4 L520.1,382.9 L520.3,379.1 L516.1,381 L513.3,385.4 L509.8,386.5 L506.1,386.9 L503.8,390.2 L500.9,393 L497.5,397.7 L492.7,397.8"/>
<path class="l" d="M494.7,386.8 L498.6,382.3 L497.5,378.3 L496.2,374.4 L497.5,368.6 L495.2,365.9 L493,363.1 L496.4,365.5 L499.9,367.7 L502.9,366.8 L506.1,366.6 L506.6,362.7 L502.5,358.7 L499.6,356.7 L496.6,354.9 L490.9,355.7 L485,355.5 L481.2,356.2 L477.3,356.8 L471.4,356.4 L470.1,356.8"/>
<path class="l" d="M480.5,360.1 L483.4,358.7 L486.4,357.7 L490.6,359.1 L486.1,361.6 L480.5,360.1"/>
<path class="l" d="M520.3,379.1 L517.9,376 L512.4,377.5 L514,373 L516.6,370.6 L519.3,368.2 L522.6,366.5 L525.7,364.5 L529.6,364 L531.7,359.8 L535.1,361.1 L536.7,365.5 L534.5,367.8 L532,369.7 L527.8,371.5 L524.6,372.6 L521.3,373.5 L517.9,376"/>
<path class="l" d="M538.8,624.6 L540.8,621.6 L542.7,618.5 L544.7,615.6 L547,612.8 L549.7,611.1 L551.9,608.8 L554.4,606.9 L556.7,604.7 L560,602.7 L563.2,600.6 L566.3,599.3 L569.5,598.5 L572.5,597.1 L575.6,595.9 L579.8,596.1 L584,595.7 L587,595.7 L590.1,595.8 L593.1,595.3 L596.1,595.2 L599.1,594.7 L602.2,594.6 L605.3,595 L608.3,594.6 L611.7,594.6 L614.9,595.5 L618.3,595.8 L621.6,596.1 L624.6,596.5 L627.4,597.8 L630.7,598.4 L634.1,597.9 L637.4,599 L640.8,598.9 L644.4,599 L647.9,598.2 L651.5,598.5 L655,598.1 L658.9,598.6 L662.8,598.3 L666.7,599 L664.2,601.3 L662.2,604 L659.2,605.8 L657.1,608.5 L653.3,609.7 L649.6,611.2 L646.5,612.2 L644,614.5 L641,615.7 L638,616.9 L635.1,618.3 L632.4,620.1 L629.4,621.3 L630.7,618.5 L631.7,615.5 L632.3,612.4 L628.8,612.6 L625.4,612.8 L621.9,612.5 L619.3,610.5 L616.5,608.9 L614,606.8 L611.2,605.1 L608.1,605.7 L605.1,606.4 L602.1,607.4 L599,607.9 L595.9,608.1 L592.2,607.4 L588.5,606.7 L584.1,607.3 L579.8,608.4 L576.8,609.3 L573.7,609.8 L570.7,610.8 L568.1,608.3 L565.5,605.8 L562.6,608 L560.2,610.6 L557.8,613.3 L555.1,615.6 L552.6,617.4 L549.9,619 L547.2,620.5 L544.1,621.3 L541.3,622.8 L538.8,624.6"/>
<path class="l" d="M589.9,594.9 L592.9,594.9 L595.9,594.3 L599,594.3 L602,594.4 L605,593.4 L608.1,593.1 L611.1,592.1 L615.3,593.3 L619.5,594.2 L622.3,595.4 L625.3,595.9"/>
<path class="l" d="M585.6,548.6 L588.2,546.5 L591.3,545.3 L594,543.4 L598,539.2 L601.3,540.1 L604.3,541.7 L604.8,544.8 L605.2,547.9"/>
<path class="l" d="M599.2,562.2 L602.2,563.6 L605.1,565.1 L607.8,568 L610.5,570.9 L611.9,575.7 L609.3,573.9 L606.5,572.7 L603.9,570.9 L602.2,568.1 L600.5,565.2 L599.2,562.2"/>
<path class="l" d="M612.6,551.4 L616.4,552.3 L620.1,553.4 L621.8,558.7"/>
<path class="l" d="M627.1,557 L632.5,560.6"/>
<path class="l" d="M629.6,568 L635.1,569 L638,570.2 L641.1,571"/>
<path class="l" d="M642.5,558 L641.3,563.4"/>
<path class="l" d="M651.3,571.1 L653.4,573.9 L655.3,576.8 L655.8,573.7 L656.3,570.7"/>
<path class="l" d="M667,568.9 L669.4,567"/>
<path class="l" d="M677.5,571.3 L685.1,568"/>
<path class="l" d="M667.9,586.2 L673.8,584.7 L672.6,581 L667.9,586.2"/>
<path class="l" d="M629.3,642.6 L631.9,640.8 L634.4,638.8 L637.2,637.2 L641.5,636.2 L645.8,635 L650,634.9 L654.1,635.1 L653.4,639.7 L650.7,641.1 L648.4,643.1 L645.7,644.5 L641.9,643.8 L637.9,643.6 L634.1,642.8 L629.3,642.6"/>
<path class="l" d="M397.5,664.4 L399.9,666.4 L401.7,668.9 L404,671 L405.5,673.7 L407.8,675.8 L410.2,677.8 L411.9,680.4 L414.8,682.1 L417,684.7 L419.8,686.5 L423.2,687.7 L426.3,689.8 L429.6,691.2 L432.9,692.6 L436,691.7 L439.1,691.2 L442.1,690 L445.2,689.1 L448.2,688.1 L451.3,687.3 L454.1,686 L457,684.8 L460,684 L462.9,682.9 L465.8,682 L469,680.2 L471.7,677.8 L474.9,676 L475.9,673.1 L477.5,670.5 L478.3,667.6 L479.3,664.7 L479.2,661.4 L479,658.2 L479,654.9 L478.4,651.7 L480.1,648.6 L482.2,645.9 L485.1,645 L487.7,643.1 L490.6,642.1 L493.5,641.2 L496.3,640.1 L499,638.6 L501.8,637.5 L504.6,636.3 L508.1,635.7 L511.6,635.4 L515.2,635.3 L519.6,638.2 L518.5,642 L517.1,645.8 L516,649.6 L515.9,653.6 L516.1,657.5 L516.2,661.5"/>
<path class="l" d="M395.3,344.9 L395,341.2 L397.3,341.8 L398.8,347.1 L402.9,347.4 L407.1,347.7 L412.4,348.1 L415.9,348.6 L419.3,349.6 L424.9,350.8 L428.9,350.5 L432.9,349.9"/>
<path class="l" d="M284.7,645.2 L287.9,648.7"/>
<path class="l" d="M416.2,0 L417.1,1.4 L415.7,2.2 L417,3.7 L413.6,4.1 L416.1,5.9 L414.4,6.6 L412.3,7.3 L414.5,9 L413.8,10 L411.4,10.8 L412.4,12.1 L413.1,13.3 L412.6,14.4 L412.7,15.5 L413.6,16.8 L410.4,17.5 L413.1,18.9 L412.5,20 L410,20.5 L410.3,21.8 L413.9,23.9 L412.5,24.7 L411.2,25.6 L409.4,26.3 L412.1,28.2 L409.7,28.8 L410,30 L411,30.9 L409.6,32.7 L409.4,34.1 L410.5,34.9 L413.5,35 L411.4,37.1 L413.2,37.7 L411.9,39.5 L413.8,40 L414.2,41.1 L412.4,42.7 L412.3,43.9 L413.4,44.8 L413.6,45.9 L413.9,47 L415.2,47.9 L417.5,48.5 L416.2,50 L413.6,50 L415.4,52.1 L416.8,54 L414.5,54.1 L414.1,55.2 L414.5,56.6 L410.7,56 L413.9,58.8 L410,58.1 L411.2,60 L412,60.9 L414,60.1 L414.5,61.5 L415.2,62.6 L417.1,61.9 L416.3,65.2 L417.6,65.4 L417.7,67.4 L420,66.2 L419.5,68.1 L420.5,68.9 L420.4,70.4 L421.4,71.1 L423.2,71 L424.4,71.6 L425.2,72.4 L424.9,74.2 L425.2,75.4 L427.5,75 L429.4,75.4 L430.4,74.7 L428.9,70.9 L431,71.6 L430.9,69.6 L433.4,70.7 L434.3,69.9 L435,68.8 L436.2,68.9 L437.5,70.2 L438.2,67 L439.7,69.2 L440.7,68.4 L441.6,66.5 L443.3,69.9 L443.8,65.4 L445.2,67.2 L446.4,67.3 L447.5,67 L448.4,67.9 L448.8,70.1 L450.7,68.6 L451.2,70.6 L453.4,68.4 L454.2,69.7 L455.9,68.7 L456.1,71.4 L457.5,71.2 L458.7,71.5 L458.8,73.6 L461.5,71.5 L461.6,73.6 L461.3,76.2 L464.8,73 L464.1,76.3 L465,77 L465.9,77.8 L467.5,77.5 L468.4,78.2 L469.5,78.5 L469.5,81 L472,78.6 L472.1,80.9 L473.1,81.2 L474,82 L475.5,81.4 L477.5,79.9 L477.5,82.5 L478.6,83.8 L479.7,81.4 L480.8,83.9 L481.9,84.8 L483.1,83.8 L484.2,82 L485.3,84.2 L486.4,82 L487.5,82.5 L488.9,82.2 L489.3,83.8 L490.2,84.7 L491.1,85.3 L492.4,85.2 L493.7,85.1 L494,87 L495.9,85.7 L496.3,87.5 L497.5,87.5 L500.1,87.2 L500.3,88.6 L497.9,91.4 L501.2,90.8 L501,92.3 L503.1,92.4 L500.8,95.2 L503.2,95.1 L505,95.3 L503.8,97.5 L505.4,97.4 L504.2,100.6 L505.6,100.7 L508.8,98.7 L506.7,102.9 L510.4,100.4 L509.9,102.7 L510.7,103.6 L510.7,105.3 L512.5,105 L514.6,104.8 L512.8,107.8 L515.6,106.9 L514.6,109.3 L514.7,110.7 L516.7,110.6 L519.6,109.6 L517.9,112.6 L519.5,112.7 L520,113.8 L520.7,115.2 L521.7,115.9 L524,113.3 L524.3,115.7 L525.3,116.5 L526,118.2 L527.6,117.2 L528.7,117.6 L530,117.5 L530.8,119 L532.6,116.5 L532.8,120 L534.3,119 L535.3,119.5 L536.9,117.6 L537.6,119.6 L538.8,119.3 L539.8,120"/>
<path class="l" d="M480,80 L481.6,81.9 L484.4,81.9 L485.8,84 L488,84.9 L490,86.2 L491,88.3 L493.2,89.2 L494.2,91.4 L496.2,92.5 L495.4,94.5 L493.1,95.4 L492.5,97.5 L490.7,95.9 L488.8,94.5 L487.5,92.5 L486.2,90.8 L485.5,88.8 L483.6,87.5 L483.1,85.5 L481.5,84 L480.5,82.1 L480,80"/>
<path class="l" d="M406.2,110 L407.4,110 L408,108.1 L409.7,109.5 L411.2,110.4 L411,106.3 L412.6,107.6 L413.8,107.5 L415.1,107.2 L416.2,107.2 L416.6,110 L417.6,110.7 L418.9,110.3 L420.4,109 L421,111.3 L422.5,110 L423.5,111.8 L421.4,112 L420.9,113 L421.9,114.8 L419.5,114.8 L419.6,116.1 L419.1,117.1 L419.6,118.7 L417.5,118.8 L418.8,119.2 L419.3,116.7 L420.3,116 L422.4,119.2 L422.8,116.5 L424.3,117.5 L425.5,117.7 L426.7,117.6 L427.5,116.2 L428.4,118.2 L430.3,115.2 L431.3,116.6 L432.8,115.5 L433.6,118.2 L435,117.5 L436.4,116.6 L437.5,117 L438.6,117.3 L439.2,119.5 L440.6,118.8 L441.3,120.6 L442.7,119.8 L443.8,120.1 L445,120 L445.9,121 L447.4,119.8 L448.4,120.4 L449.7,120.2 L450.9,120.1 L451.2,123.4 L452.7,122.4 L453.9,122 L455,122.5 L455.6,123.6 L457.7,122.7 L456.7,125.9 L458.7,125.2 L460.1,125.2 L459.9,127.3 L461.4,127.2 L461.7,128.7 L464.2,127.3 L462.9,130.9 L465,130 L465.5,132 L467.8,129.3 L468.3,131.3 L470.2,129.8 L471.2,130.3 L472.1,131.3 L473.5,131.2 L473.2,135.2 L475,133.8 L476.1,133.9 L477.2,134.3 L478.2,135.2 L479.6,133.4 L480.6,134.4 L481.6,135.5 L482.7,135.2 L484,134.1 L485,135 L486.4,133.2 L487,137 L488,137.6 L489.1,137.7 L490.7,134.1 L491.8,134.6 L492.9,134.8 L493.8,136.2 L492.4,137.5 L494.4,138.4 L493.1,139.7 L493.1,140.8 L494.5,141.8 L495.8,142.8 L492.5,144.3 L494.4,145.3 L493.8,146.5 L495,147.5 L494.6,149.8 L492.8,147.9 L491.4,147.4 L490.9,149.5 L489.8,149.6 L488.1,148.2 L487.5,150 L486.4,150 L485.3,149.4 L484.2,150.6 L483.1,152 L481.9,149.9 L480.8,149.5 L479.7,149 L478.6,150.4 L477.5,150 L477.4,151.8 L478.2,152.6 L481.3,151.2 L482,152.2 L480.7,155.1 L481.5,156 L482.4,156.7 L485.3,155.5 L485,157.5 L485.1,159.7 L487.7,157 L488.7,157.7 L488.7,160 L489.6,160.8 L491.9,158.7 L491.6,161.8 L493.8,160 L494.2,161.6 L495,162.5 L496.7,162.5 L495.8,165 L497.6,164.9 L499.7,164.5 L498.1,167.8 L500.4,167.1 L499.6,169.5 L502.7,168.1 L502.5,170 L502.9,172 L501.4,172.3 L500.2,172.7 L500.6,174.8 L498,173.8 L497.5,175 L496.7,173.5 L495.4,174.1 L494.2,174.2 L493.4,172.5 L491.8,174.2 L490.4,174.9 L489.5,174.1 L489,171.2 L487.5,172.5 L487.2,174.5 L485.7,173.8 L484.8,174.7 L482.7,172.9 L482.2,174.5 L481.6,175.7 L480.9,176.8 L480,177.4 L479.3,178.6 L477.5,177.5 L476.3,177.6 L475.4,176.6 L474.4,175.8 L472.9,177.2 L471.6,177.6 L470.7,176.4 L470.2,173.6 L468.9,174.3 L467.5,175 L466.9,172.6 L465.4,174.1 L464.2,174.1 L463.5,172.2 L461.6,174.9 L460.6,174.5 L459.4,174.2 L458.3,174 L457.5,172.5 L456.9,174.4 L454.8,171.4 L454.3,173.8 L453.2,173.9 L452.2,174.4 L451.6,176.1 L450,175 L451.2,176.5 L451.5,177.9 L447.8,178.4 L450.6,180.3 L448.8,181.2 L450,180.4 L451.3,183.4 L452.5,182.6 L453.8,182.6 L455,181.2 L454.5,179.3 L456.3,179.3 L458.8,179.9 L458.3,178 L460,177.9 L459,175.6 L460,175"/>
<path class="l" d="M425,132.5 L427.2,132.8 L428.8,134.6 L430.8,135.4 L433.3,134.7 L435,136.2 L436.8,137.5 L438.9,138 L440.9,138.7 L443.3,138.5 L445,140 L446.8,141.5 L449.1,141.8 L450.8,143.4 L453,144.1 L455,145 L455.1,147.1 L455.6,149.1 L456.8,150.9 L456.7,153.1 L457.5,155 L460.3,154.4 L462.5,152.5 L465.2,152.3 L467.7,151.5 L470,150 L469.8,152.7 L468.1,154.9 L467.5,157.5 L464.8,157.8 L462.6,159.5 L460,160 L459.7,162.2 L457.7,163.6 L457.1,165.6 L456.2,167.5 L454.1,168.9 L453.4,171.5 L452.1,173.5 L450,175"/>
<path class="l" d="M420,140 L421.6,141.7 L422.1,144 L423.4,145.8 L424.1,148 L425,150 L425.8,152 L425.3,154.3 L426.2,156.3 L426.3,158.4 L426.4,160.6 L427.5,162.5 L426.5,164.5 L425.5,166.5 L425,168.8 L423.1,170.3 L422.5,172.5 L420.3,174.4 L417.5,175 L417.2,177.2 L417,179.4 L415.6,181.3 L415.5,183.5 L414.8,185.6 L414.3,187.7 L413.8,189.8"/>
<path class="l" d="M397.5,183.8 L399.7,183.6 L401.4,185.2 L403.3,186 L405.5,185.6 L407.5,186.2 L409.6,185.2 L410.6,183 L412.4,181.7 L413.8,180 L413.6,182.1 L415.2,183.8 L416,185.7 L416.2,187.7 L416.2,189.8"/>
<path class="l" d="M417.5,185 L419.5,185.6 L421.4,186.2 L423.5,186.1 L425.4,186.6 L427.5,186.2 L429.7,186.3 L431.5,187.8 L433.5,188.3 L435.6,188.7 L437.5,189.8"/>
<path class="l" d="M440,150 L443.8,147 L447.5,150 L447.5,155 L443.8,157.5 L440,155 L440,150"/>
<path class="l" d="M507.5,179.5 L510,178.5 L511,180.5 L508,181 L507.5,179.5"/>
<path class="l" d="M516.2,188 L520,188.8"/>
<path class="l" d="M495,0 L495.6,1.3 L497.9,-0.7 L498.7,0.1 L498.8,2.5 L500.4,1.8 L500.1,4.8 L501.4,4.7 L502.2,5.6 L504.2,4.1 L505,5 L504.1,6.7 L505.7,7.1 L505.1,8.7 L507.8,8.6 L507.3,10.1 L508.3,10.9 L508.9,11.8 L509.5,12.8 L509.9,13.8 L510,15 L508,14.5 L507.7,13.4 L508.1,12.1 L509.5,10.4 L508.9,9.4 L509,8.2 L507.5,7.5 L507.8,9 L508.5,10 L511.4,7.8 L511.6,9.5 L511.9,11.1 L514.3,9.5 L513.1,13.4 L515,12.5 L516.4,13.2 L516.9,11.2 L517.5,9.3 L518.7,9.2 L519.6,8.6 L521,9.2 L522.5,10 L523.3,8.5 L524.3,7.8 L525.8,9.1 L527.3,10.3 L528.3,9.6 L529.3,9 L530.8,10.1 L531.4,7.9 L532.5,7.5 L534.4,9.2 L533.9,10.2 L533.4,11.3 L531.9,12.1 L530.4,12.9 L528.8,13.7 L532.2,15.7 L530.3,16.4 L530,17.5 L528.8,18.1 L528.9,19.5 L529,20.9 L528.8,22.1 L525.6,21.4 L524.7,22.1 L526.8,24.8 L525,25 L523.5,24.7 L523.7,23.2 L522.8,22.4 L523.2,20.8 L520.1,21.5 L520.7,19.8 L521.8,17.6 L520,17.5 L518.9,18.1 L519.8,20.7 L516.5,19 L515.9,20.1 L517.1,22.9 L515,22.5"/>
<path class="l" d="M538,44.5 L539.8,44.5"/>
<path class="l" d="M539,15 L540.4,18.5 L542.5,21.6 L544,25 L544.4,28.3 L545.1,31.6 L545.2,35 L544.4,38.3 L544.7,41.7 L544,45 L539,45.5"/>
<path class="l" d="M544,45 L545.2,45.5 L545,47.1 L547.6,46.5 L545.2,49.8 L546.4,50.3 L546.5,51.7 L549.5,50.8 L550.4,51.6 L551.6,52.1 L551.8,53.4 L551.5,55 L553.7,55.5 L551.6,57.5 L553.2,58.1 L552,59.9 L552.6,60.9 L554.5,61.5 L555.6,62.3 L555.4,63.7 L555.2,65 L556.8,66.5 L554.1,67.1 L555.6,68.6 L555.5,69.8 L552.4,70.2 L553.8,71.7 L551.6,72.4 L551.2,73.4 L552.8,75 L552.3,76.2 L554.1,77.1 L554.6,78.2 L554.3,79.3 L552.5,80.7 L553.6,81.7 L554.5,82.7 L555.8,83.7 L554,85 L555.3,85.3 L556.1,86.2 L557.9,86 L558.4,87.3 L559.2,88.2 L559.8,89.4 L560.6,90.4 L561.5,91.2 L561.9,92.3 L561.6,93.9 L564.1,93.6 L565.4,94.1 L565.3,95.5 L566.2,96.2 L565.6,98 L566.6,98.7 L567.7,99.3 L569.1,99.7 L567.5,102.1 L569,102.5 L569.6,103.6 L570.4,104.4 L571.1,105.4 L571.6,106.6 L574.6,104.8 L575.1,106.1 L575.2,107.7 L575.5,109.1 L576.9,109.3 L577.8,110 L578.6,110.8 L580,111.1 L581,111.8 L580,114.4 L580.5,115.5 L582.7,115 L583.6,115.7 L585.4,115.6 L585.2,117.5 L585.5,118.7 L587.5,118.9 L586.8,120.8 L588.6,121 L588.5,122.5 L587.6,123.2 L585.8,122.5 L586.1,125 L584.6,124.8 L584.1,126.2 L582.8,126.2 L581.7,126.1 L580.8,124.4 L579.5,125.8 L578.7,123.8 L577.3,125.8 L576.2,125.5 L575.2,124.6 L574,125 L573.5,126.1 L572.3,126.8 L573.1,128.6 L573.6,130.2 L571.6,130.5 L572.3,132.2 L570.2,132.5 L568.8,133.3 L567.8,131.7 L566.6,131.2 L565.5,130.1 L564.1,130.9 L562.8,131.2 L561.5,131.2 L560.3,131.7 L559.3,131 L558.1,131.6 L556.9,132.2 L556,130.4 L554.9,129.9 L553.6,131 L552.7,129.2 L551.5,130 L550.5,129.5 L549.1,130 L548.7,127.6 L546.6,130.4 L545.9,129.1 L544.8,128.5 L544,127.5 L543.3,126.4 L541.6,127.4 L541.9,124.3 L539.3,126.9 L539,125"/>
<path class="l" d="M574,0 L575.1,1.3 L573.5,2.2 L572.1,3.2 L573.9,4.5 L573.2,5.5 L573.6,6.7 L572.4,7.7 L572.4,8.8 L572.8,10 L572,10.8 L570.4,11.2 L570.6,12.6 L571,14.1 L570.3,15.1 L569.1,15.7 L568.4,16.6 L569.1,18.2 L567.8,18.8 L568,20.3 L569.7,20.5 L569.9,22 L572.2,21.5 L572.6,22.8 L574.1,23.1 L574,25 L574.9,24.2 L575.7,23.1 L576.9,22.7 L577.7,21.8 L579.7,22.7 L580.2,21.2 L581.3,21.9 L582.8,21.4 L584,22.2 L585.2,22.5 L586.7,21.8 L587.5,24.3 L588.7,24.5 L590.2,23.7 L591.5,23.8 L590.6,22.5 L593.2,21.8 L591.1,20.4 L590.8,19.2 L592.1,18.3 L592.1,17.1 L593.7,16.3 L592.8,15 L592.9,13.4 L593.5,12.4 L595.2,12.4 L595.2,10.7 L597.3,11.2 L597.8,10 L597.6,8.9 L598.6,7.6 L598.7,6.5 L596.4,5.7 L597.9,4.3 L596.9,3.3 L598.1,2 L595.4,1.3 L596.5,0"/>
<path class="l" d="M574,7.5 L575.4,8.8 L576,10.5 L576.9,12.1 L578.1,13.5 L579,15 L578,16.6 L577.4,18.3 L576.5,20 L578.1,19.4 L579.4,18.2 L580.9,17.4 L582.8,17.5"/>
<path class="l" d="M203.8,252.5 L203.1,254.4 L204.6,255.8 L206.2,257.2 L206.6,258.9 L206.4,260.7 L206.2,262.5 L204.8,264 L204.4,265.7 L206.1,267.6 L205.6,269.2 L205.3,270.8 L205,272.5 L204.7,274.5 L206.8,274.9 L208,275.9 L208.3,277.5 L210.5,277.9 L210,280 L209.5,281.7 L210.3,283.6 L207.7,284.7 L208.5,286.7 L206.5,288 L207.5,290 L208.6,291.1 L210,292.1 L209,294.7 L210.3,295.7 L213.5,295.3 L211.9,298.4 L213.1,299.4 L215,300 L214.2,301.9 L215.8,303.1 L215.8,304.7 L216.3,306.2 L217.5,307.5 L218,309.2 L219,311 L216.9,312.7 L216,314.5 L217.5,316.2"/>
<path class="l" d="M205,257.5 L205.9,258.9 L206.7,260.4 L208.6,261.3 L207.3,263.9 L208.8,265 L207.8,266.5 L207.4,268.2 L207.6,270 L206.5,271.5 L205.4,273 L206.2,275 L206.4,276.7 L208.1,277.6 L207.2,279.9 L209.6,280.5 L211,281.5 L211.2,283.2 L211.2,285 L211.4,286.7 L210.5,288.5 L212.3,289.9 L211.6,291.7 L213,293.2 L212.5,295 L214.6,295.8 L212.6,298.7 L214.5,299.6 L215.6,300.9 L216.2,302.5"/>
<path class="l" d="M195,286.2 L196.4,287.6 L196.9,289.8 L199.1,290.6 L200,292.5 L201.3,294.4 L202.1,296.4 L203.4,298.3 L204.3,300.4 L205,302.5 L205.3,304.7 L206.5,306.5 L207.9,308.3 L207.5,310.7 L208.8,312.5 L210.1,314.2 L210.2,316.5 L212.2,317.8 L212.5,320 L211,318.2 L209.3,316.6 L207.5,315 L206.4,312.9 L205.6,310.6 L204,308.8 L202.2,307.1 L201.2,305 L200.1,303 L198.6,301.3 L198.4,298.9 L197.1,297.1 L196.2,295 L195.3,292.9 L195.8,290.6 L195.7,288.3 L195,286.2"/>
<path class="l" d="M195,190 L194.2,191.7 L196.7,192.2 L197.5,193.3 L195.6,195.5 L199,195.6 L197.9,197.5 L198.1,198.8 L198.8,200 L197.7,200.8 L198.7,203 L196.2,202.9 L195.9,204.3 L193.9,204.5 L196.2,207.6 L193.8,207.5 L193.7,209.9 L196.7,207.7 L196.2,210.8 L198,210.4 L198.3,212.3 L200.9,210.6 L201.2,212.5 L201.1,214 L201.3,215.7 L198,215 L198.2,216.7 L198.7,218.6 L198,219.7 L196.2,220 L198.3,219.2 L199.1,220.3 L199.3,222.4 L200.7,222.6 L201.1,224.3 L203.7,222.7 L203.8,225 L201.9,225 L200.6,225.5 L200.6,227.1 L199.8,228.1 L198.7,228.7 L200.4,231.8 L198.4,231.7 L197.5,232.5 L199.6,231.7 L199,235 L200.6,234.8 L202.7,233.9 L203,235.9 L203.3,237.8 L205,237.5 L204,238.4 L204.6,240.6 L201,239.5 L203.2,242.9 L199.7,241.8 L200,243.8 L199.7,246.3 L201.4,246.3 L201.9,247.8 L204,247.2 L205.9,247 L206.2,248.8 L205.4,249.8 L203.6,249.9 L202.6,250.7 L202.5,252.5"/>
<path class="l" d="M201.2,190 L200.4,191.7 L203.8,191.9 L200.9,194.4 L202.2,195.4 L204.6,195.9 L204.3,197.4 L206.4,198 L205,200 L205.8,201.8 L203.3,201.9 L202.3,202.8 L204,205.1 L201.4,205.2 L202.1,206.9 L200.9,207.7 L199.2,208.2 L200,210 L201.8,210.1 L202.9,210.9 L203,212.6 L202.3,215.2 L205,214.4 L204.6,216.7 L207.6,215.6 L207.5,217.5 L205.9,218.1 L205,219 L206.4,221.1 L206.4,222.5 L206.3,223.8 L205.6,224.9 L204.4,225.7 L202.7,226.2 L202.5,227.5 L202,229.5 L204.9,228.7 L203.4,231.5 L206.8,230.3 L206.4,232.2 L206.4,233.8 L206.7,235.2 L208.8,235 L206.6,235.6 L206,236.8 L209.1,239.4 L205.4,239.4 L208.5,242 L206.1,242.6 L206,244 L205,245"/>
<path class="l" d="M207.5,190 L209,191 L208.5,192.4 L209.3,193.6 L209.2,194.8 L207.9,196.4 L210,197.3 L209.5,198.7 L210.2,199.8 L207.7,201.5 L209.6,202.5 L210.5,203.6 L210,205 L209.8,206.4 L207.9,207.1 L209,208.9 L207,209.6 L208,211.4 L208,212.8 L205.3,213.2 L206.2,215 L208.2,215.5 L205.7,217.8 L208.1,218.2 L207.2,219.9 L208.6,220.6 L210.3,221.3 L210.8,222.4 L211.2,223.6 L211.6,224.7 L211.8,225.9 L211.2,227.5 L211.8,228.9 L211.7,230.2 L209.8,231.1 L210.4,232.5 L211.1,234 L211.4,235.3 L209,236.1 L209.1,237.5 L207.5,238.5 L208.8,240"/>
<path class="l" d="M186.2,246.2 L187.4,247.5 L187.8,249.2 L188.4,250.8 L188.9,252.4 L190.5,253.4 L191.2,255 L190.7,256.5 L190.6,258 L189.9,259.4 L189.1,260.7 L188.4,262.1 L188.8,263.8 L190,262.4 L190.5,260.8 L189.7,258.7 L190.5,257.2 L192.1,256 L192.1,254.1 L192.5,252.5 L190.8,251.7 L190.1,249.9 L189.2,248.3 L187.5,247.5"/>
<path class="l" d="M390,201.2 L392.5,201.6 L395,202 L397.5,202.5 L399.1,204.2 L400.9,205.7 L402.5,207.5 L400.5,208.8 L399.5,211.2 L397.5,212.5 L396.3,214.4 L394.7,216 L393.6,218 L392.5,220 L391.5,222 L392,224.2 L391.4,226.3 L391.1,228.4 L390.9,230.5 L390,232.5 L390.2,235.1 L389.2,237.5 L388.8,240 L389.6,241.9 L389.7,244 L389.6,246.2 L390,248.2 L391.2,250 L393.2,250.8 L395.4,250.6 L397.5,251.2 L398.4,253.1 L398.4,255.3 L400,257 L399.9,259.2 L401.4,260.9 L401.9,263 L402.5,265 L405,264.2 L407.7,263.9 L410,262.5 L411.9,263.3 L413.9,264 L416.1,263.8 L418.1,264.3 L420,265 L421.8,266.5 L423.9,267.1 L425.9,268.3 L428.3,268.5 L430,270 L432.3,270.3 L434.2,271.6 L436.4,272.2 L438.5,273 L440.3,274.6 L442.5,275 L444.7,274.8 L446.4,273.1 L448.3,272.2 L450.3,271.6 L452.5,271.2 L455.1,271.2 L457.4,272.4 L460,272.5 L460.8,274.6 L460.6,277 L462.5,278.8 L462.5,281.2 L464,283 L465.9,284.4 L466.6,286.8 L468.6,288.1 L470,290 L471.8,291.2 L472.9,293.1 L474.1,294.9 L476.5,295.5 L477.5,297.5 L479,298.8 L479.6,301 L481.3,302.2 L482.5,303.8 L483.8,302.1 L486.2,301.7 L487.5,300 L488.6,298.2 L488.4,296 L488.6,293.9 L488.9,291.8 L490,290 L489.2,288 L488.2,286.2 L487.1,284.5 L485.9,282.7 L484.5,281.2 L483.3,279.4 L482.5,277.5 L481.1,275.9 L479.8,274.2 L478,273 L476.5,271.5 L475,270 L476.1,268.2 L477.9,266.9 L479.3,265.4 L479.7,263.1 L481.8,262.1 L482.5,260 L483.4,258.1 L483.4,256 L483.7,253.9 L484.8,252.1 L485,250 L484.1,248 L483.1,245.9 L482.6,243.7 L481.6,241.7 L480,240 L478.1,238.7 L476,238 L473.8,237.4 L471.7,236.5 L470,235 L468.3,233.4 L466.2,232.5 L466.4,230.4 L467.5,228.6 L467.5,226.4 L467.9,224.4 L468.8,222.5 L467.4,220.5 L465.3,219 L463.6,217.3 L462.5,215 L462.4,212.8 L460.9,211 L460.1,209.1 L459.9,206.9 L458.8,205 L458,203 L458.3,200.8 L457.5,198.8 L459.9,198 L462.6,198.2 L465,197.5 L467.1,196.5 L468.4,194.5 L470.5,193.6 L472.5,192.5 L474.5,193.4 L476.7,193.3 L478.8,193.7 L481,193.6 L483,194.1 L485,195 L486.9,195.9 L488.9,196.2 L491,195.7 L493,196.2 L495,196.2 L496.4,197.7 L496.5,200 L497.8,201.6 L498.7,203.4 L500,205 L500.8,207.2 L502.8,208.5 L503.5,210.8 L505,212.5 L506.9,213.7 L508.9,214.8 L510.9,215.9 L512.5,217.5 L514.2,216.2 L515.2,214.2 L516.7,212.7 L518.4,211.4 L520,210 L519.5,207.9 L519.1,205.8 L518.4,203.8 L519,201.5 L517.4,199.7 L517.5,197.5 L518.7,195.1 L519.5,192.6 L520,190"/>
<path class="l" d="M466.2,290 L471.2,288 L475,289.5 L471.2,292 L466.2,290"/>
<path class="l" d="M416.2,190 L417.2,191.9 L417.3,194 L417.8,196 L417.6,198.2 L418.8,200 L421.1,199.8 L423.3,199.1 L425.4,198.4 L427.5,197.5 L429.1,195.8 L431.6,195.5 L433.1,193.7 L435,192.5 L437.5,191.8 L439.8,190.3 L442.5,190"/>
<path class="l" d="M432.5,207.5 L436.2,202.5 L439.5,203.8 L436.2,209.5 L432.5,207.5"/>
<path class="l" d="M448,203.8 L451.2,202.5 L452.5,208.8 L449.5,210 L448,203.8"/>
<path class="l" d="M520,190 L521.7,191.7 L522.9,193.7 L525,195 L527.2,195.7 L528.9,197.3 L531,198.1 L532.5,200 L534.9,201.1 L537.5,201.2 L539.8,202.5"/>
<path class="l" d="M503.8,195 L504.5,198.8"/>
<path class="l" d="M537.5,236.2 L539.8,235"/>
<path class="l" d="M537.5,236.2 L539.8,243"/>
<path class="l" d="M495,196.2 L495.3,198.5 L495.6,200.8 L497.6,202.6 L497.5,205 L499.4,206.3 L499.4,209 L501.5,210.1 L502.9,211.8 L503.8,213.8 L504.2,211.7 L504.7,209.6 L505,207.5"/>
<path class="l" d="M539,200 L540.5,199.7 L540.6,201.6 L542.6,200.7 L541.9,203.7 L544.3,202.2 L544.7,203.6 L545,205.2 L546.5,205 L546.5,206.9 L548.2,206.8 L548.9,207.8 L550.2,208.2 L550.4,209.8 L552.8,208.9 L552.6,210.9 L554,211.2 L555,211.8 L556.3,211.7 L557.4,211.8 L558.9,210.6 L559.5,212.9 L560.7,212.7 L561.7,213.6 L562.9,213.3 L564,213.8 L565.8,214.6 L566.4,213.3 L567.5,212.6 L567.8,210.7 L569.2,210.8 L571.2,212 L571.5,210 L572.4,209.1 L573.3,208.1 L574.6,208.5 L575.4,207.4 L577.2,209.3 L578.1,208.4 L579,207.5 L579.7,208.8 L576.9,209.3 L578.3,210.9 L578.5,212.1 L576.3,212.7 L578.5,214.5 L577.9,215.5 L577.1,216.5 L576.5,217.5 L574.8,217.9 L575.9,219.7 L574.8,220.4 L575.6,222 L574.8,222.9 L573.9,223.7 L572.3,224.2 L571.5,225 L571.1,226.1 L571.5,227.5 L571.4,225.8 L573,225.7 L573.1,224.1 L575.4,224.8 L575.2,222.9 L577.7,223.7 L578.2,222.5 L579.1,221.8 L579,220 L579.1,218.7 L581.5,218.9 L581.5,217.6 L580.1,215.4 L583.2,215.9 L581.2,213.5 L584.4,214 L582.8,211.8 L584,211.2 L585.1,210.2 L586.5,210.9 L587.5,209 L589.1,211.3 L590.4,211.1 L591.5,210 L593.3,209.3 L592.9,212 L594.3,211.9 L595.2,212.5 L596.1,213.2 L596.7,214.4 L597.1,215.8 L599,215 L599.4,216.1 L601.2,216.2 L600.5,218.2 L602,218.4 L602.7,219.3 L603.7,220 L604,221.2 L603.8,222.5 L605.4,223.6 L603.6,225.2 L605.2,226.2 L605.2,227.5"/>
<path class="l" d="M605.2,223.8 L596.5,223.8 L564,247.5 L561.5,241.2 L559,247.5 L560.2,255 L552.8,257.5 L539,243.8"/>
<path class="l" d="M539,213.8 L552.8,226.2 L539,235"/>
<path class="l" d="M605.2,227.5 L603.9,229.2 L604,231.6 L601.9,232.9 L601.5,235 L601.2,237.2 L601,239.4 L600.3,241.4 L599,243.3 L598.2,245.4 L597.8,247.5 L595.7,248.6 L594,250.1 L592.9,252.5 L590.4,253.1 L589,255 L587.7,256.8 L585.4,257.1 L584,258.8 L582.3,259.9 L580.4,260.9 L579,262.5 L577.6,264.1 L576.1,265.6 L573.6,265.8 L572.6,267.9 L570.9,269 L569,270 L567.8,272.1 L565.8,273.5 L564,275 L564.1,277 L563.6,279 L562.6,280.9 L563,283 L562.8,285 L562.1,287 L560.9,288.9 L560.2,290.9 L560.2,293.2 L559,295 L558,296.9 L557.5,298.9 L557.9,301.1 L557,303 L556.5,305 L555.9,307.2 L556.1,309.4 L555.2,311.6 L555.2,313.8 L557.2,312 L559,310 L559.3,307.9 L560.3,305.9 L559.7,303.6 L561,301.7 L561.5,299.7 L561.5,297.5 L562.7,295.6 L564.1,293.8 L564.9,291.7 L565.4,289.5 L566.5,287.5 L567.5,285.5 L569,284 L570.5,282.5 L572.1,281.1 L574,280 L576.1,279.5 L578.1,278.7 L579.9,277.6 L581.5,276.2 L583,278 L585.2,278.8 L584.3,281.2 L583.1,283.6 L582.8,286.2 L580.6,287.3 L578.2,288.1 L576.5,290 L576.5,292.1 L575.2,293.8 L577.4,293 L578.9,291.1 L580.7,289.7 L582.8,288.8 L584.2,290.4 L586.1,291.3 L587.8,292.5 L589.2,294.5 L591.3,295.6 L592.8,297.5 L595,297.6 L597.1,298.5 L599.3,298.7 L601.5,298.8 L604,298 L606.5,297.1 L609,296.2 L610.9,294.4 L612.6,292.3 L614,290 L614.5,287.9 L614.8,285.9 L613.9,283.7 L615.5,281.7 L614.7,279.6 L615.2,277.5 L615.7,279.6 L617.4,281.1 L617.7,283.3 L619,285 L619.1,287 L618.7,289 L618.7,291.1 L618.4,293 L617.8,295 L618.7,297.4 L619,300 L617.6,301.6 L616.2,303.2 L614.6,304.6 L612.6,305.6 L611.5,307.5 L610.7,309.6 L609.6,311.6 L607.1,312.7 L606.5,315 L608.3,316.2 L609.3,318.1 L610.2,320 L610.1,322.3 L608.2,324 L607.8,326.2 L605.7,326.3 L603.6,325.4 L601.5,326.2 L600.3,324.3 L599.9,322 L599,320 L599.1,317.9 L600.1,316 L600.8,314.1 L600.4,311.9 L601.5,310 L599,307.5 L598,309.8 L595.8,311.2 L594.5,313.2 L592.8,315 L592.2,317.2 L590.7,318.9 L589.4,320.8 L588.4,322.8 L587.8,325 L587,327.1 L586,329.1 L584.2,330.7 L584.5,333.3 L582.8,335 L582,337.1 L580.3,338.4 L579,340"/>
<path class="l" d="M606.5,222.5 L608.1,223.2 L608.4,224.3 L606.6,226.3 L608,227 L609.3,227.8 L609.5,229 L609.2,230.3 L610.4,231.2 L610.2,232.5 L609.8,233.9 L612.2,234.4 L611.7,235.8 L612.4,236.8 L611,238.4 L611.1,239.7 L612.6,240.5 L611.6,242 L614.8,242.3 L613.1,244 L614,245 L614.7,246.3 L614.6,247.5 L613.1,248.4 L614.6,249.8 L614.5,251 L613.4,252 L612.1,252.9 L611.6,254 L610.9,255 L612.3,256.5 L611.5,257.5 L611.7,258.7 L611.3,260.3 L612,261.2 L614.9,260.7 L615.1,261.9 L616.2,262.5 L615.6,264.3 L616.5,265 L617.4,264.3 L618.5,264 L618.9,262.5 L621.1,263.8 L620.4,260.7 L623.1,262.7 L623.7,261.6 L624,260 L625.5,259.8 L626,258.7 L627.7,258.7 L627.3,256.6 L629.3,257 L630.1,256.1 L628.7,253 L630.8,253.4 L631.5,252.5 L632.1,250.8 L633.9,252.5 L634.2,249.9 L636.3,252.6 L636.5,249.7 L637.8,250.1 L639,250 L641.1,250.2 L639.8,252.1 L639.6,253.4 L639.7,254.6 L641.5,255 L640.7,253.4 L641.6,252.5 L642.4,251.5 L642.2,250.2 L642.6,249.1 L643.5,248.1 L644.9,247.4 L643.8,245.7 L645.2,245 L646.7,246.5 L647.5,243 L648.9,243.7 L650.4,244.9 L651.4,243 L652.8,243.8 L652.5,242.6 L651.6,241.7 L650.7,240.8 L650.6,239.5 L649.6,238.7 L650.3,237 L648.9,236.3 L649,235 L647.3,236.1 L647.1,233.3 L645.3,234.7 L644.4,233.8 L642.8,234.5 L642.5,232.1 L640.6,233.7 L640.1,231.6 L639,231.2 L638.5,229.5 L636.3,232 L635.5,231 L635.2,228.6 L633.5,230.1 L632.8,228.8 L630.9,228.5 L631,230.2 L630.8,231.5 L630.1,232.3 L629.7,233.5 L627.3,232.6 L627.7,234.7 L626.5,235 L625.8,236.5 L624.7,236.7 L623.4,236.3 L622.4,237.1 L621.3,237.3 L619.8,236.2 L619,237.5 L618.1,236.7 L618,235.2 L616,235.5 L616.6,233.3 L615.3,232.9 L614,232.5 L613.8,231.4 L613,230.5 L613.3,229.1 L611,229 L610.8,227.9 L611.2,226.4 L609.1,226.2 L610.3,224.4 L609.3,223.6 L609,222.5 L607.8,223.9 L606.5,222.5"/>
<path class="l" d="M576.5,268.8 L584,265 L595.2,264.2 L589,268.8 L579,270.5 L576.5,268.8"/>
<path class="l" d="M595.2,291.2 L598.4,293 L601.5,295 L605.2,293.5 L609,292.5 L611.5,288.8 L608.3,289 L605.2,290 L602.1,289.3 L599,288.8 L595.2,291.2"/>
<path class="l" d="M619,280 L624,281.2 L625.2,286.2 L623,288.4 L620.2,290 L617.8,285 L619,280"/>
<path class="l" d="M605.2,275.8 L606,280.5"/>
<path class="l" d="M549,303.8 L556.5,305"/>
<path class="l" d="M90,120 L91.3,120.8 L93,120.7 L93.5,123 L94.9,123.6 L96.7,123.3 L98,123.6 L99.2,124.4 L100.8,123.7 L102.1,124 L103.3,125 L104.8,125 L105.8,126.4 L107.6,125.9 L108.3,128.1 L110,127.5 L110.9,126.1 L112.3,126 L113.4,125.3 L115,125.8 L116,126.8 L117.6,126.3 L118.8,127 L120,127.5 L121,126.3 L122.7,126.1 L123.6,124.8 L125,124.2 L126.5,123.2 L128.3,123.4 L130,123.3 L131.6,122.6 L133.2,121.8 L135,122.5"/>
<path class="l" d="M123.3,119.2 L123.2,117.5 L124.6,116.5 L125,115 L123.5,114.7 L123.2,113 L122,112.4 L120.8,111.7 L120.3,110.1 L120.5,108.3 L120,106.7 L120.9,105.5 L120.9,103.7 L122.5,103 L123.3,101.7 L124.5,101 L125.3,100.1 L126.8,99.8 L127.6,98.7 L128.3,97.5 L129.3,96.5 L130.2,95.4 L131.7,95"/>
<path class="l" d="M90,124.2 L90.5,125.9 L92.3,125.5 L93.1,126.7 L94.1,127.5 L96,127 L96.7,128.3 L98.4,127.9 L99,129.7 L100.7,129.2 L101.6,130.4 L102.2,132.2 L103.4,132.8 L105,132.5 L106.7,132.1 L108.1,132.5 L109.3,133.3 L110.1,135.3 L111.7,135 L113.5,134.3 L114.6,135.3 L116,135.5 L117.3,136.1 L118.3,137.5 L119.4,138.3 L121,138.2 L121.8,139.4 L122.4,140.8 L123.6,141.5 L125,141.7 L126.3,141.3 L127.8,142.1 L129,141.3 L130.5,141.8 L131.7,140.8 L132.8,139.7 L134.2,139.5 L135.7,139.5 L137.4,139.9 L138.3,138.3 L139.6,137.4 L140.5,136.1 L141.7,135 L143.3,134.1 L144.9,133.9 L146.7,134.2 L148,133.4 L149.4,135.3 L150.7,134.9 L152.1,134.8 L153.3,133.7 L154.6,134 L155.9,134.8 L157.4,134 L158.7,134.7 L160,135 L161.8,134.4 L163.4,135.3 L165,135.8 L166.5,136.1 L167.8,136.6 L168.3,138.3 L168.2,140.2 L170.9,140.2 L170.2,142.5 L171.7,143.3 L171.5,145 L173.3,146.5 L172.5,148.3 L173.2,149.5 L172.6,151.4 L173.2,152.6 L175,153.3 L175.7,154.6 L176.1,156.2 L177,157.3 L178.3,158.3 L179.2,159.4 L179,160.8 L179.3,162.1 L180,163.3 L181.1,164.4 L181,166.3 L182.6,167 L183.3,168.3 L183.8,169.8 L186.1,169.5 L186.4,171.2 L188.1,171.5 L188.3,173.3 L189.3,174.5 L190.3,175.8 L192,175.9 L193.3,176.7 L194.9,177.7 L196.7,178.3 L197.2,180.1 L198.3,181.7 L198.7,183.2 L197.9,184.4 L197.1,185.6 L196.7,186.9 L196.7,188.3 L197.8,189.4 L198.4,190.8 L199.5,191.8 L200,193.3"/>
<path class="l" d="M148.3,142.5 L149.1,144.1 L150.4,144.5 L151.8,144.9 L153.3,145 L154.7,145.9 L155.3,147.3 L155.4,149 L156.7,150 L157.4,151.4 L159.6,150.7 L160,152.5 L160.2,151 L162.4,151 L161.8,148.8 L163.3,148.3 L164.7,147.5 L165.3,145.8 L166.7,145 L168.4,145.3 L170,145.9 L171.7,145"/>
<path class="l" d="M163.3,136.7 L162.2,137.8 L163,139.4 L161.8,140.5 L161.1,141.8 L161.7,143.3 L162.7,144.5 L162.5,146.2 L164,147.2 L164.9,148.4 L165,150 L165.6,148.6 L167.1,147.8 L166.9,145.9 L168.3,145 L168.2,143.5 L167.2,142.2 L166.5,140.8 L166.7,139.2"/>
<path class="k" d="M120.8,143.3 L125.8,141.7 L131.7,142.5 L138.3,143.3 L137.5,146.7 L133.3,150 L130,148 L125.8,148.7 L122.5,146.7"/>
<path class="l" d="M110,145 L112.5,145.8"/>
<path class="l" d="M92.5,132.5 L93.7,134.7"/>
<path class="l" d="M90,121.7 L90.5,122.9 L91,124 L93.3,123.3 L92.6,125.7 L94.2,125.8 L93,126.2 L93.9,128.1 L92.5,128.3 L93.9,128.4 L95,127.9 L95.8,126.7"/>
<path class="d" d="M360,415 L372.5,407.5 L385,402.5 L400,400 L417.5,398.8 L435,401.2 L450,405"/>
<path class="d" d="M360,462.5 L370,455 L382.5,448.8 L395,446.2 L410,450 L425,448.8 L435,441.2 L442.5,433.8"/>
<path class="d" d="M360,527.5 L372.5,521.2 L385,515 L392.5,510"/>
<path class="d" d="M420,516.2 L432.5,527.5 L442.5,532.5"/>
<path class="d" d="M465,450 L475,442.5 L485,443.8"/>
<path class="d" d="M500,462.5 L510,460 L520,455"/>
<path class="d" d="M455,417.5 L465,410 L477.5,405 L490,403.8 L500,400"/>
<path class="d" d="M297.5,403.8 L310,413.8 L322.5,418.8"/>
<path class="d" d="M335,392.5 L342.5,383.8"/>
<path class="d" d="M340,465 L343.8,452.5 L347.5,442.5"/>
<path class="d" d="M282.5,477.5 L297.5,490 L310,507.5 L320,520"/>
<path class="d" d="M365,465 L377.5,452.5 L392.5,446.2 L402.5,445"/>
<path class="d" d="M347.5,535 L365,525 L377.5,517.5"/>
<path class="d" d="M317.5,425 L327.5,420 L335,410"/>
<path class="d" d="M300,470 L307.5,477.5 L317.5,480 L327.5,477.5"/>
<path class="d" d="M222.5,340 L227.5,333.8 L232.5,325 L237.5,320"/>
<path class="d" d="M180,376.2 L190,381.2 L200,386.2 L210,392.5"/>
<path class="d" d="M172.5,390 L182.5,392.5 L192.5,400 L197.5,407.5"/>
<path class="d" d="M191.2,425 L200,420 L212.5,426.2 L225,432.5 L237.5,437.5 L247.5,440"/>
<path class="d" d="M200,450 L205,460 L212.5,470"/>
<path class="d" d="M245,387.5 L252.5,382.5"/>
<path class="d" d="M290,412.5 L300,420 L310,430 L319.8,440"/>
<path class="d" d="M287.5,327.5 L292.5,322.5"/>
<path class="d" d="M193.8,435 L205,430 L217.5,431.2 L230,437.5 L240,445"/>
<path class="d" d="M197.5,455 L205,467.5 L215,477.5"/>
<path class="d" d="M245,485 L255,492.5 L265,502.5 L272.5,510"/>
<path class="d" d="M250,470 L260,477.5 L270,487.5"/>
<path class="d" d="M290,477.5 L300,485 L310,495"/>
<path class="d" d="M292.5,442.5 L302.5,447.5 L312.5,457.5"/>
<path class="d" d="M155,96.2 L170,93.8 L185,95 L200,96.2 L212.5,93.8"/>
<path class="d" d="M172.5,80 L185,85 L197.5,88.8 L210,91.2"/>
<path class="d" d="M200,75 L207.5,82.5 L212.5,90"/>
<path class="d" d="M217.5,65 L225,77.5 L230,90 L232.5,102.5"/>
<path class="d" d="M180,140 L190,150 L197.5,160"/>
<path class="d" d="M220,85 L230,87.5"/>
<path class="d" d="M222.5,95 L232.5,97.5"/>
<path class="d" d="M540,387.5 L550,382.5 L560,380"/>
<path class="d" d="M490,440 L502.5,435 L515,430"/>
<path class="l" d="M190.2,172.8 L190.5,173.9 L192.5,174.3 L189.1,176.7 L191,177.2 L191.7,178.2 L190.3,179.8 L194.8,179.4 L191.8,181.7 L193.6,182.2 L195,183.3 L194.7,184.3 L194.3,185.3 L192.1,186.1 L190.9,187 L192.1,188.1 L194,189.3 L194.9,190.3 L194,191.3 L194.3,192.3 L192.8,193.2 L192.7,194.2 L193,195.2 L195.3,195.6 L195.2,196.8 L192.2,198.9 L193.5,199.6 L196.8,199.6 L193.3,202 L195.8,202.3 L196.4,203.2 L196.2,204.4 L194.4,205.1 L194.8,206.2 L195.9,207.5 L195.9,208.5 L194.9,209.4 L193.2,210 L193.6,211.2 L196.6,212.9 L196.6,213.9 L194.8,214.6 L194.9,215.6 L193.6,216.4 L192.5,217.8 L193.6,218.6 L196.3,218.9 L195.1,220.3 L194.6,221.5 L195.4,222.4 L196.8,223.1 L194.9,224.7 L197.2,225.1 L194,227.1 L197.3,227.2 L197,228.4 L196.7,229.4 L194.9,230 L197,231.7 L193.9,232 L195.4,233.4 L195.2,234.5 L196.5,235.9 L195.8,236.8 L194.5,237.5 L194.4,238.6 L193.4,240.3 L197,239.8 L194.3,242.4 L194.4,243.5 L198.8,242.5 L196.7,244.9 L197.9,245.5"/>
<path class="l" d="M195.3,178.8 L197.7,179.2 L195.6,181 L196.8,181.7 L194.6,183.6 L196.4,184.1 L197.2,185 L195.5,186.7 L199.1,186.7 L196.6,188.6 L198.7,189.1 L199,190.1 L197.5,191 L195.9,191.7 L196.6,192.8 L197.5,194 L196.3,194.8 L200.2,196.4 L197.9,197.1 L195.6,197.8 L196,198.8 L197.4,200 L197,201 L198.7,201.4 L198.5,202.6 L198.5,203.7 L200.4,204 L196.9,206.6 L198.6,206.9 L199.6,207.6 L201.7,207.9 L201.4,209.1 L201.3,210.2 L201.3,211.3 L202.9,212.7 L201.7,213.5 L201.3,214.4 L199.2,215 L198.1,215.8 L202.5,217.8 L201.6,218.6 L197.8,218.8 L201.8,220.8 L200.4,221.5 L198.6,222.1 L198.7,223.2 L198.9,224.3 L200.8,224.8 L198.5,226.7 L199,227.7 L202.8,227.5 L199.7,229.7 L201.7,230.2 L201.5,231.4 L201.4,232.6 L202.1,233.5 L201.1,234.3 L200.1,235.2 L203,237 L202.7,238 L202.3,239 L202.2,240.1 L198.9,240.4 L198.3,241.3 L200.5,242.9 L199.6,243.8 L199.5,245.3 L199.8,246.5 L200.2,247.5 L201.3,248.1 L202.8,248.3 L203.8,248.9"/>
<path class="l" d="M201.3,185.6 L201.6,186.6 L201.6,187.7 L203.4,188.1 L200.7,190.2 L202.1,190.8 L202.3,191.8 L204.1,192.2 L202.7,193.9 L204.7,194.2 L203.4,195 L203.9,196.1 L206.3,197.5 L204.4,198.2 L201.6,198.9 L203.6,200.2 L204.3,201.3 L202.9,202.1 L205.3,203.5 L204.2,204.3 L201.7,205 L203,206.2 L203.5,207.2 L204.2,208.1 L201.7,210 L204.3,210.3 L204.9,211.2 L207.1,211.6 L204.9,213.5 L205.8,214.3 L207.1,215 L206.4,216.4 L204,216.9 L205.3,218.3 L205.5,219.4 L203.7,220 L205.8,221.5 L202.7,221.9 L203.9,223.2 L205.3,224.5 L204.7,225.4 L201.9,225.9 L203.5,227.3 L203.8,228.4 L206.5,228.2 L203.1,231.1 L205.6,231 L206.6,231.7 L206.3,233.1 L208,233.4 L206.4,235.4 L207.1,236.2 L208.1,236.9 L208,238 L207.6,239.1 L208,240.4 L205.9,240.9 L204.9,241.8 L208.5,244 L205.3,244.2 L205.6,245.5"/>
<path class="l" d="M206.4,189.1 L208.9,189.5 L209,190.6 L207.6,192 L209.4,192.7 L205.7,194.7 L210.3,194.6 L208,196.3 L209.3,197 L207,198.7 L209,199.3 L210.7,200.4 L209.7,201.4 L209.6,202.4 L210,203.4 L211.2,204.5 L208.9,205.3 L210.6,206.5 L207.9,207.3 L210.6,208.5 L209.2,209.4 L208.4,210.3 L208.1,211.3 L206.2,212.7 L210.6,212.9 L210.6,214 L207.5,215.7 L211.6,215.9 L207.3,217.9 L209.2,218.5 L211,219.2 L208.3,220.8 L210.2,221.5 L208.8,222.5 L210.9,223.6 L208.5,224.5 L211.6,225.7 L209.4,226.6 L209.8,227.7 L208.3,228.6 L210.8,229.8 L210.4,230.8 L209.8,231.8 L208.3,232.7 L209.5,233.9 L208.5,234.9 L208.7,236 L208.4,237 L207.2,238 L209.2,239.2 L209,240.3"/>
<path class="l" d="M192.7,187.4 L192.8,190 L194.5,188.4 L196.2,187 L195.6,191.2 L197.6,188.9 L197.9,191.1 L200.3,187.8 L201,188.8 L201.3,190.8 L198.7,190.1 L198.6,191.5 L201.2,194.9 L198.6,194.3 L198.2,195.3 L198.3,196.8 L198.1,198.1 L196.5,198.2 L196.5,199.6 L194.4,199.3 L195.9,198.1 L195.9,201.8 L197.7,199.6 L198.9,199.6 L199.7,200.5 L201.2,199.4 L201,203.7 L202.6,202.1 L203.4,203.2 L204.7,202.7 L202.2,201.6 L204.7,205.6 L202.3,204.6 L201.9,205.6 L200.2,205.3 L200.1,206.6 L199.9,207.9 L200.4,209.8 L198.2,209 L196.5,208.8 L195.3,208.9 L196.2,211.3 L197.3,211.4 L198.2,212 L198.8,213.7 L200.3,212.3 L201.4,212.4 L201.9,214.3 L202.7,215.4 L203.9,215.1 L204.6,216.2 L206.8,212.8 L207.3,214.7 L206.4,215.2 L207.2,217.8 L203.5,214.9 L205,218.4 L203.3,217.9 L201.9,217.8 L201.9,219.4 L201.1,220 L200.3,220.7 L199.1,220.9 L198.1,221.3 L197,221.6 L197,223.2 L198.1,223.4 L199.2,223.3 L200.6,222.5 L201.8,222.1 L202.3,223.9 L202.3,227.4 L204.1,225.3 L205.6,224 L206.1,225.9 L206.7,227.5 L208.1,226.7 L206.2,226 L207,228.5 L205.4,228.2 L206.4,231.1 L203.1,228.6 L203.8,231.1 L203.9,232.8 L202.8,233.1 L200,231.3 L199,231.7 L200.5,235.1 L197.1,232.7 L197.9,235.2 L199.4,234.2 L200.7,233.9 L201.9,234 L202.7,235.1 L202.7,238.2 L204,237.8 L204.5,239.9 L206.8,236.8 L207.3,238.6 L208.1,240.4 L204.6,239.3 L205.6,241.2 L205,242.1 L203.2,242.1 L205.8,245.2 L205,246 L204.3,246.7 L202.5,246.8 L201.3,247.2"/>
<path class="l" d="M186.8,245.5 L185,247 L188.7,247.1 L186,248.8 L188.8,249.1 L186.8,250.7 L189,251.1 L188.5,252.3 L187.6,253.1 L187.2,254 L189.8,256.1 L186,255.8 L188.3,257.8 L186.2,258.1 L185.9,259.1 L184.5,260.6 L185.8,261.3 L185.5,262.5 L188.1,262.8 L187.4,264.1 L187.6,265.1 L186.4,263.5 L188.3,263 L187,261.3 L191.2,261.7 L188.4,259.5 L190.4,259 L190.4,257.9 L190.3,256.6 L191,255.7 L192.7,254.2 L191.2,253.6 L191.6,252.4 L188.4,252.2 L188.1,251.3 L187.3,250.4 L189.3,248.9"/>
<path class="l" d="M204.7,248.9 L205,249.9 L206.5,250.5 L204.7,252.2 L204.9,253.3 L205.9,254 L209.1,253.9 L207.3,255.7 L208.3,257 L207.6,257.9 L204.4,258.1 L205.6,259.5 L206,260.6 L205,261.4 L205.6,262.6 L207.8,262.7 L205.8,264.9 L206.4,265.8 L208.8,265.9 L208.6,267.2 L208.9,268.2 L209,269.4 L206.6,269.8 L208.9,271.7 L210.2,273.3 L206.3,273.2 L205.7,274.2 L207.8,276 L205.7,276.5 L206.4,277.9 L204.8,279.9 L207.8,279.6 L207.2,281.2 L208.1,281.9 L208.6,282.9 L209.2,283.9 L209.8,284.8 L207.9,285.3 L207.2,286.2 L206.8,287.2 L210.1,289.4 L208.1,289.9"/>
<path class="l" d="M203,252.3 L204.1,253.1 L202.5,254.8 L205.7,255 L205.2,256.3 L205.1,257.5 L203.3,259.3 L205.9,259.6 L205.6,260.9 L205.6,262 L208,262.2 L208,263.3 L206.2,265.1 L207.2,265.8 L206.8,267.1 L208.1,267.7 L208.3,268.8 L207.9,269.8 L209.1,271 L208.9,272.1 L209.6,273.2 L209,274.2 L207.6,275.2 L207.3,276.2 L207.4,277.4 L207.3,278.6 L208.2,279.4 L208,280.8 L208.8,281.6 L212.2,281.2 L210.7,283.1"/>
<path class="l" d="M196.2,285.6 L197.2,286.3 L198,287.2 L198.7,288.2 L197.9,289.9"/>
<path class="k" d="M470,253.75 L472.5,253.25 L473.75,257 L472.5,260.75 L470,260.5 L469,257"/>
<path class="d" d="M365,339.5 L375,341.2 L385,350 L397.5,360 L410,367.5 L420,371.2 L435,372.5 L450,373.8"/>
<path class="l" d="M295.3,113.7 L295.5,112.2 L296.6,111.4 L297,110.1 L298.1,109.3 L299.5,108.7 L300.2,107.6 L300.7,106.3 L301.8,105.5 L302.2,104.2 L303.5,103.5 L303.9,102.2 L304.1,100.7 L305.4,100.1 L306.1,98.9 L306.9,97.9 L308.3,98.1 L309.8,97.8 L311.1,98.8 L312.6,98.1 L313.9,98.5 L315.3,99 L316.6,99.6 L317.6,100.5 L318.8,101.3 L319.2,102.8 L320.4,103.6 L321.6,104.3 L323,105.1 L322.9,106.8 L324.3,107.6 L324.2,109.3 L325.2,110.3 L325.8,111.6 L324.6,112.2 L323.2,112.5 L322,113 L320.9,113.8 L320,115 L318.9,115.9 L317.4,115.9 L316.3,116.7 L315.3,117.6 L313.8,118 L312.8,118.9 L312.5,120.6 L311.1,121.1 L309.8,121.6 L308.4,121.5 L307.3,122.3 L305.7,121.8 L304.9,123.6 L303.4,123.4 L301.9,123.1 L300.6,123.3 L299.5,124.3 L299,123 L298.1,121.8 L298.1,120.3 L297.1,119.1 L297.2,117.6 L296.1,116.4 L295.4,115.2 L295.3,113.7"/>
<path class="l" d="M311.1,121.1 L312.5,120.9 L313.5,120.1 L314.4,119 L315.3,118 L316.9,118.2 L318.4,118 L318.9,116.5 L320.5,116.5 L320.8,114.5 L322.4,114.7 L323.2,113.5 L324.7,113.3 L325.8,112.7 L326.2,114.1 L326.4,115.5 L327.7,116.5 L327.7,118.1 L329,119 L330.5,119.6 L331.9,120.1 L332.8,121.5 L333.8,122.7 L335.3,123.2 L336.6,122.7 L336.8,120.8 L338.2,120.3 L339.2,119.5 L340.6,119 L340.9,120.4 L340.4,121.9 L341.8,123.1 L342.4,124.5 L341,126.1 L341.3,127.5 L341.7,128.9 L343.4,130 L342.7,131.6 L342.5,130.1 L342.7,128.7 L344.4,127.7 L343.2,126 L343.5,124.6 L344,123.3 L345.4,122.2 L344.6,120.6 L346.4,119.6 L345.8,118 L347,117.1 L348.6,117.2 L349.5,115.9 L351.1,115.9 L352,117 L351.5,118.8 L351.8,120.2 L353.2,121.1 L353.3,122.6 L352.8,124 L353,125.5 L352.4,126.8 L351.7,128.2 L351.1,129.5 L351.4,130.9 L351.7,132.4 L352.4,133.7 L353.2,135 L352.7,136.6 L353.2,138 L354.2,138.9 L355,139.9 L354.8,141.7 L356.2,142.3 L357.9,142.7 L357.2,144.8 L358,145.9 L359.5,146.4 L360,147.7 L359.1,149.2 L361.1,150.2 L360.6,151.7 L358.9,151.8 L358.3,153.8 L356.3,153.4 L355.3,154.8 L354.9,153.2 L354.7,151.6 L353.2,150.6 L352.4,151.7 L350.9,151.9 L349.5,152.3 L349.4,154.3 L348.3,155 L346.8,155.2 L346.3,156.7 L344.8,156.9 L343.9,158.3 L342.7,158.9 L341.2,158.8 L339.7,158.8 L338.7,159.6 L337.4,160.1 L336.8,161.5 L337.5,163.3 L336.9,164.8 L335.6,166 L335.3,167.5 L333.8,167.9 L332.4,167.9 L331,167.5 L329.9,166 L328.7,165.1 L327.2,165.7 L325.8,165.4 L324.3,166.2 L322.9,165.6 L321.6,164.5 L320.3,164.1 L318.7,165.1 L317.4,164.3 L316.3,163.3 L314.6,162.9 L314.3,161.1 L313.2,160.1 L314.7,160 L315.8,159 L317.3,159.1 L318.4,158 L317.4,157 L317.7,155.4 L316.8,154.3 L316.5,153 L315,152.2 L315.3,150.6 L314.6,149.4 L314.2,148 L312.9,147.1 L312.8,145.5 L312.1,144.3 L312.9,142.8 L314.5,142.8 L316.2,143 L317.2,141.8 L318.3,140.8 L319.5,140.1 L320.7,141.1 L322.1,141.1 L323.6,141 L325,141.1 L326.1,142.3 L327.6,142 L329,142.2 L327.9,141.5 L326.7,140.9 L325.4,140.5 L324.4,139.7 L323.8,138.2 L322.7,137.6 L321.6,136.9 L320.4,136.1 L318.9,136.4 L317.5,136.2 L316.2,135.6 L314.7,135.9 L313.7,134.2 L312.1,134.8 L312.1,133.4 L311.2,132.2 L311.3,130.8 L311.1,129.5 L312.4,130.2 L313.7,130.4 L315,129.9 L316.4,130.3 L317.7,130.1 L319,129.2 L320.3,129.3 L321.6,129.5 L320.2,129 L318.5,129.3 L317.5,127.8 L316,127.3 L314.8,126.4 L313.2,126.4 L312.4,125.2 L313,123.4 L312.1,122.2 L311.1,121.1"/>
<path class="l" d="M290,133.8 L291.6,134.3 L291.7,136.3 L293,137.1 L294.2,138 L295.7,138.2 L296.5,139.7 L297.9,140 L299,141 L300.5,141.1 L301.3,142.3 L302,143.5 L302.9,144.6 L304.4,145.1 L305.6,145.9 L305.4,147.9 L306.9,148.5 L308.6,148.7 L309.4,150.2 L310.3,151.7 L312.1,151.7 L313.3,152.3 L314.5,152.9 L315.4,153.9 L316.3,154.8"/>
<path class="l" d="M335.3,167.5 L335.9,168.8 L337,170.1 L336.2,171.7 L337.6,172.9 L337.1,174.5 L337.4,175.9 L337.4,174.4 L338.6,173.2 L337.7,171.5 L339.9,170.6 L338.2,168.7 L339.5,167.5 L340.2,165.9 L342.2,166.4 L343.8,166.4 L344.9,165.4 L346.1,164.6 L346.9,163.2 L348.4,162.8 L349.7,163.4 L350.8,164.1 L352.1,164.4 L353.2,165.4 L354.8,165 L356.1,165.6 L357.5,166.2 L358.9,166.4 L360,167.9 L361.6,167.5 L362.8,168.6 L364.6,167.3 L365.8,168.6 L367.1,169.4 L369,168.2 L370.1,169.6 L371.7,170.2 L372.7,168.9 L373.8,168.2 L375.1,167.7 L376.4,167.5 L375.9,169.1 L377.2,170.2 L377.9,171.5 L377.1,173.2 L379.3,174 L379.1,175.5 L379.5,176.9 L380.8,175.8 L380.9,174.4 L381.1,173 L381.5,171.7 L380.2,170 L381.7,168.9 L381.6,167.5 L381.8,166.1 L383.2,164.8 L383.3,163.4 L382.1,161.8 L383.3,160.5 L382.7,159"/>
<path class="l" d="M317.4,85.3 L318.1,84.5 L319.6,84.8 L320,83.5 L320.8,82.8 L322.4,83.2 L321.8,80.6 L324.4,82.4 L324.2,80.3 L324,78.3 L325.8,79 L327,79.8 L327.8,77.6 L329.2,80.5 L330.1,79.2 L330.9,77.1 L332.3,80 L333.1,77.3 L334.2,77.9 L332.1,78.3 L335.2,80.7 L333.7,81.4 L332,82 L332.1,83.2 L331.6,84.5 L330.5,84.7 L330,86 L328.2,84.7 L326.8,84.3 L326.8,86.7 L325.3,85.9 L324.6,86.8 L323.7,87.4 L324.5,88.5 L325.3,89.9 L326.8,88.4 L328.1,88.1 L329,88.8 L329.8,90 L331.1,89.5 L328.9,89.5 L328.5,90.4 L330.4,92.6 L330.7,93.8 L327.2,93.2 L329.4,95.4 L327.9,95.8 L328.3,97 L330.4,95.8 L330.4,97.6 L330.7,98.9 L331,100.2 L333.2,98.9 L333.8,99.7 L333.8,101.5 L335.3,101.1 L334.4,101.8 L334.8,103.8 L333.4,104 L332.1,104.3 L333.1,103.2 L334.3,105.1 L335.3,104.6 L336.2,102.2 L337.4,103.7 L338.6,104.7 L339.7,104.9 L340.7,104.3 L341.7,103.6 L342.7,103.2 L343.7,102.8 L345.4,104.2 L345.8,102 L346.6,100.9 L347.7,100.7 L348.8,100.7 L349.9,100.4 L350.8,99.6 L352.1,100.1 L351.4,99.1 L353.1,97.7 L350.1,97.2 L349.8,96.1 L351.1,94.8 L349.6,95.4 L348.5,95.2 L348.6,91.7 L347.4,91.9 L345.8,92.7 L347.3,91.9 L344.2,90.3 L347,89.7 L347.4,88.7 L345.5,87.2 L346.9,86.4 L347.3,87.7 L345.9,88.2 L345.9,89.3 L345.4,90.2 L344.5,90.9 L343.1,91.3 L343.7,92.7 L342.5,91.8 L341.4,91.6 L340.4,92 L339.7,94.6 L338.4,93 L337.4,93.7 L336.1,93 L336.9,91.5 L335.9,90.7 L337.6,89 L335.5,88.5 L335.3,87.4 L334.4,87 L333.1,87.1 L332.7,85.8 L332,85 L330.1,86.1 L330,84.3 L328.1,83.5 L328.3,85.5 L328.1,87 L325.8,85.8 L326.9,88.9 L324.5,87.4 L324.4,89.1 L322.2,87.9 L323.5,91.3 L321.6,90.6 L322.1,88.7 L320.6,88.5 L320.2,87.4 L318.5,87.3 L317.6,86.6 L317.4,85.3"/>
<path class="l" d="M319.5,82.1 L320.4,80.3 L321.5,81.2 L322.7,82.7 L323.8,83 L324.9,83.1 L325.9,83.3 L326.8,80.4 L327.8,80.6 L329,81.4 L330,81.8 L331,80.1 L332.1,81.1 L330.8,81.5 L331.7,83.3 L330,83.4 L329.6,84.3 L330.1,85.8 L329.2,86.5 L327.9,86.9 L327.7,88 L328,89.3 L325.5,89 L326.8,91 L325.8,91.6 L327,91.5 L328.3,91.2 L327.8,94.4 L329.1,94 L330.1,94.4 L331.2,94.3 L332.6,93.7 L333.8,93.6 L333.9,95.8 L334.4,97.1 L335,98.1 L337.3,95.7 L338.3,96 L338.5,97.9 L339.4,96.3 L340.5,96.5 L341.7,98.5 L342.8,98.1 L343.9,98.5 L344.8,96.9 L345.7,96 L347,98.4 L348.1,98.8 L349,96.9"/>
<path class="l" d="M339.5,75.8 L340.3,74.8 L341.4,73.9 L342.6,73.1 L342.4,71.3 L343.7,70.6 L345.4,70.7 L346.3,72.3 L347.9,72.7 L347.5,74.1 L346.2,74.9 L345.2,76 L345.9,78 L344.6,78.9 L343.7,80 L342,80.1 L340.6,79 L339.7,77.5 L339.5,75.8"/>
<path class="l" d="M356.4,68.5 L357.7,67.1 L359.5,66.3 L359.8,67.8 L361.7,68.3 L361.3,70.2 L362.9,70.9 L363.2,72.4 L363.5,73.9 L364.8,74.8 L364.5,76.4 L363.1,77.5 L362.7,79 L362.2,77.5 L360.7,77.1 L359.3,76.7 L358.1,76.1 L357.4,74.8 L358,73.1 L356.5,71.7 L357.3,70 L356.4,68.5"/>
<path class="l" d="M367.9,70.6 L368.9,71.7 L370.6,72.2 L370.6,74.3 L372.2,74.8 L373.3,75.9 L373.7,77.4 L375.1,78.3 L375.7,79.7 L376.4,81.1 L374.9,81.1 L373.4,81.1 L372.2,82.1 L371.1,81.2 L370.1,80.3 L369.1,79.4 L368.7,77.9 L367.9,76.9 L367.6,75.3 L367.1,73.8 L367.3,72.2 L367.9,70.6"/>
<path class="l" d="M353.2,80 L355.3,85.3"/>
<path class="l" d="M364.8,59 L366.3,63.2"/>
<path class="l" d="M382.7,80 L384.8,83.2 L382.7,84.3 L382.7,80"/>
<path class="l" d="M355.3,91.6 L356,90.1 L357.1,89.9 L357.9,88.9 L359.4,89.9 L360.6,89.9 L361.6,89.5 L362.8,89.3 L363.6,89.9 L364.3,90.9 L365.7,90.4 L366.4,91.3 L366.9,92.4 L367.9,92.7 L368.9,92.2 L370.4,93 L371.4,92.7 L372.4,91.9 L373.3,91.2 L374.3,90.6 L375.5,90.4 L375.7,92.3 L376.6,92.7 L378.2,91.8 L379.3,91.9 L379.8,93.1 L380.6,93.7 L381.1,94.8 L380.9,95.9 L380.8,96.9 L380.6,98 L381.7,99.2 L379.9,100.1 L378.3,101 L381.2,102.3 L378.9,103.2 L379.5,104.3 L378.2,104.1 L376.8,103.6 L376.7,106.4 L375.2,105.6 L374.3,106.4 L372.5,106.2 L372.2,105.2 L373.3,103.5 L371.5,103.3 L370.8,102.5 L372.5,100.5 L371.1,100.1 L370,100.7 L369,101.4 L368.6,102.6 L366.8,102.5 L366.9,104.3 L365.9,103.7 L364.7,104.2 L364.1,101.9 L362.7,103.3 L361.6,103.2 L360.2,102.9 L359.7,101.9 L360.6,99.7 L359.5,99.1 L358.1,98.8 L357.4,97.9 L357.5,96.7 L356.1,96 L355.4,95.1 L354.5,94.2 L356.3,92.4 L355.3,91.6"/>
<path class="l" d="M359.5,92.7 L360,93.7 L361,94.3 L361.7,95.1 L361.5,96.5 L362.3,97.2 L363.5,97.8 L364.6,98.4 L363.7,100.1 L363.9,98.6 L366.4,99.8 L367.3,99.1 L367.6,97.7 L367.6,95.9 L369,95.8 L369.4,96.8 L369.1,98.2 L369.7,99.1 L372.5,98.7 L370.1,101.3 L371.2,101.9 L372.3,102.5 L373.2,103.2 L374.9,103 L373.1,100.5 L373.9,99.8 L376.1,99.9 L375.7,98.4 L377.2,98.1 L377.4,96.9"/>
<path class="l" d="M354.3,101.1 L355.7,102.6 L354.3,103.8 L353.2,102.2 L354.3,101.1"/>
<path class="l" d="M370.1,57.9 L371.7,57.7 L371.6,56.4 L372.3,55.7 L372.1,54.4 L372.3,53.3 L373.5,52.8 L373,51.3 L375.6,51.7 L375,50.1 L376.4,49.8 L375.8,48.2 L376.4,47.4 L378.1,47.5 L377.9,45.7 L377.6,43.9 L380.1,44.8 L381.5,44.6 L381.4,43 L382.4,42.4 L382.7,41.1 L382.9,42.2 L383.1,43.4 L382.8,44.4 L381.4,45.2 L380,46 L382.8,47.7 L381.9,48.6 L382,49.7 L379.4,50.3 L380.6,51.6 L379.8,53.4 L381.3,53.8 L382.6,54.2 L382.6,55.6 L382.4,57 L385,56.7 L383.8,58.7 L384.5,59.6 L385.9,60 L386,61.1 L385.6,62 L385.5,63.1 L385.6,64.2 L383.7,64.6 L383.6,65.6 L384.8,67.1 L383,67.5 L382.7,68.5 L382.3,69.8 L381.3,70.4 L379.4,69.4 L380.1,72.3 L378.9,72.5 L377.8,72.8 L376.4,72.7 L375.8,71.9 L373.9,72 L375,70 L372.8,70.3 L373.2,68.8 L372.3,68.1 L373.6,66 L371.9,66 L371.1,65.3 L370.2,64.3 L370.1,63.3 L370.6,62.1 L370.8,61 L370,60.1 L370.9,58.9 L370.1,57.9"/>
<path class="l" d="M380.6,36.9 L382.8,37.6 L381.3,34.5 L382.1,33.8 L382.9,33 L383.9,32.5 L384.5,31.5 L385.4,30.9 L387.6,31.6 L387.2,29.7 L388.5,29.4 L389,28.4 L390.4,28.8 L390.3,26.3 L391,25.3 L393.4,27.7 L393.4,25.2 L393.9,23.9 L395.8,25.3 L397.3,26 L398.3,25.6 L397.7,22 L399.5,23.2 L400.9,22.5 L401.9,22.9 L402.2,25.7 L404.1,23 L404.8,24.6 L405.8,25.2 L406.9,25.3 L405,26.5 L405.6,27.6 L406.8,28.5 L406.6,29.6 L407.9,30.5 L407.2,31.7 L406.8,32.8 L408.1,33.7 L406.5,34.9 L410.1,35.6 L408,36.9 L405.6,37.3 L406.2,38.6 L408.6,40.5 L408.7,41.7 L407.2,42.4 L406.2,43.2 L405.8,44.3 L405.9,45.5 L404.1,46 L404.8,47.4 L404.5,48.5 L403.6,49.8 L404.6,50.7 L406.6,51.4 L407.2,52.4 L405,53.9 L405.1,55 L404.9,56.1 L406.2,56.9 L406.9,57.9 L407.8,58.9 L408.7,59.9 L408.3,61 L407.5,62.1 L406.1,63.3 L407.6,64.3 L408.9,65.2 L407.8,66.4 L408.5,67.4 L408,68.5 L407.9,69.6 L408.3,70.9 L404.8,70.3 L404.3,71.1 L407.3,73.8 L406,74.3 L404.8,74.8 L404.8,76 L405.8,76.7 L405.9,77.7 L405.7,79 L407.1,79.5 L406.9,80.7 L409.1,80.8 L408.1,82.5 L409,83.2 L407.2,84.6 L407.6,85.7 L408.7,86.5 L411.3,87.1 L409.8,88.5 L409.9,89.6 L412.4,90.2 L411.6,91.4 L410.3,92.8 L411.1,93.7 L409.5,94.5 L408.8,95.5 L410.7,96.9 L410.8,98 L410,99 L410.1,100.1 L409.3,100.8 L408.7,102 L407.5,101.7 L406.6,102.3 L405.1,101.1 L404.8,103.2 L403.4,102.3 L401.9,101.2 L401.6,103.2 L400.6,103.6 L399.6,104 L398.3,101.7 L397.4,103.6 L396.4,104 L395.4,105.1 L394.4,105.2 L393.1,103.6 L392.1,103.4 L391.1,104.3 L390.2,105.3 L389,104.8 L388.1,106.3 L386.8,104.1 L386,105.8 L384.9,105.6 L383.7,104.6 L382.7,105.3 L382.4,104.3 L383.7,102.9 L383.9,101.8 L383.7,100.8 L379.7,100.4 L382.8,98.7 L382,97.8 L379.3,97.2 L382.1,95.6 L378.7,95.1 L380.6,93.7 L381.8,94 L382.6,92.8 L383.4,91.4 L384.9,93.1 L385.7,91.8 L387.3,93.8 L387.9,91.7 L389,91.6 L390.2,91.9 L391.5,93.2 L392,90 L393.3,91.2 L394.5,91.6 L395.7,92.5 L396.7,91.6 L397,88 L398.3,88.8 L399.5,89.5 L400.8,89.6 L400.7,87.2 L403.1,89.3 L404.3,89.3 L404,86.7 L406,88 L405.6,85.2 L406.9,85.3 L406.3,83.3 L405,83.9 L403.7,84.4 L402.6,84.2 L402,82.4 L400.7,82.8 L399.5,83.2 L398.4,83.1 L398.1,85.2 L397.4,86.3 L394.9,82.7 L394.8,85.4 L393.4,84.5 L393.3,87.1 L392.5,87.9 L391.4,87.7 L390.3,87.9 L389,87.4 L388.3,86.5 L387.4,85.9 L386.1,85.9 L384.5,86.4 L383.4,86.1 L384.4,82.6 L382.7,83.2 L384.5,83.1 L383,80.8 L385.1,80.9 L384.1,79 L385.5,78.6 L386.6,78 L386.9,76.9 L387.5,79 L389.1,77.2 L390,78.1 L391.5,76.2 L392.1,78.4 L393.5,77.1 L394.5,77.7 L395.3,79 L396.8,80.5 L397.9,80.5 L398.7,79.3 L399.4,77.5 L401.1,79.5 L402,78.9 L402.8,77.4 L403.8,76.9 L402.5,77.1 L401.4,77 L400.1,77.2 L400.2,74.6 L399.5,73.8 L397.4,75.7 L397.3,73.3 L397,71.6 L395.3,72.7 L394.3,72.1 L393.4,71.5 L392.2,71.7 L390.9,72.3 L390.2,70.7 L388.7,72.5 L387.9,71 L386.9,70.6 L389,70 L387.9,68.6 L389.4,67.8 L386.4,66 L388.2,65.3 L389.1,64.4 L387.9,63 L389,62.1 L389.3,60.6 L389.4,59.2 L386.2,60.3 L386.1,59 L387,57 L386.3,56.3 L385.1,55.8 L382.4,56.6 L382.8,54.9 L382.7,53.7 L382.3,52.7 L384.2,51.1 L379.8,51.1 L380.6,49.8 L379.4,48.9 L381.4,47.3 L382.1,46.1 L380.6,45.3 L381.7,44.2 L381.8,43.2 L382.4,42.1 L380.9,41.1 L379.3,40 L382,39 L379.3,37.9 L380.6,36.9"/>
<path class="l" d="M384.8,34.7 L386.2,34.7 L387.5,34.7 L386,38.2 L388.4,36.8 L389.7,37 L388.5,40 L391.7,37.7 L390.6,40.7 L392.5,40.1 L393.7,40.2 L394.2,41.3 L395.2,41.7 L395.3,43.2 L394.1,43.3 L392.7,43.2 L392.7,45.1 L392.5,46.7 L391.4,47.1 L389.9,46.9 L389,47.4 L390.7,46.6 L390.2,49.3 L392.5,47.6 L392.6,49.4 L393.2,50.4 L394.3,50.4 L395.7,50.2 L395.1,53.2 L396.8,52.2 L396.9,54 L399.3,52 L399.5,53.7 L397.7,53.1 L396.6,53.3 L397.6,56.4 L395.6,55.5 L394.5,55.7 L393.3,55.9 L393.4,57.8 L392.6,58.6 L391.2,58.4 L391.1,60 L392.2,60.1 L393.7,59 L394.5,59.8 L395.7,59.6 L396.5,60.4 L396.6,62.8 L397.2,64 L399,62.5 L400.4,61.6 L401.2,62.4 L401.6,64.2 L401.8,66 L399.2,65 L400.6,67.9 L398.9,67.8 L396.5,67.1 L396.4,68.6 L396.2,69.9 L395.3,70.6"/>
<path class="l" d="M399.5,28.4 L399.2,29.7 L400.9,30.1 L402.4,30.6 L400.3,32.6 L402.9,32.6 L402.6,33.9 L402.8,34.9 L400.9,36.8 L404.7,36.4 L405.1,37.4 L403.8,39 L402.4,39.7 L403.7,41.3 L404.2,42.6 L403.9,43.6 L404,44.8 L402.5,45.5 L399.9,45.9 L400.1,47 L399.2,47.9 L400.6,49.5 L402.5,50.1 L401,51.6 L403,52.3 L402.4,53.5 L401.1,55 L401.3,56 L403,56.7 L403.4,57.7 L401.8,59.3 L405.2,59.5 L402.4,61.3 L403.8,62.1 L403.5,63.1 L402.8,64.1 L401.7,65 L404.4,66.7 L403.3,67.5 L403,68.6 L403.9,69.9 L400.3,70.2 L403.5,72 L401.6,72.7"/>
<path class="l" d="M382.7,89.5 L383.1,90.8 L384.9,90.1 L385.7,90.7 L386.5,91.4 L387.1,92.4 L387.8,93.3 L388.2,94.4 L389.9,93.9 L389.5,96.2 L391.1,95.8 L392.1,95.3 L393.1,95 L394.1,94.2 L395.4,95.2 L396.5,95.3 L397.2,93.6 L398.6,95 L399.5,94.2 L400.4,93.3 L401.6,93.7 L402.8,93.6 L404,93.4 L404,95.8 L404.5,97 L405.9,96.6 L407.5,95.7 L408,96.9"/>
<path class="l" d="M384.8,100.1 L385.8,99.4 L386.8,98.9 L387.9,99.2 L389.1,100.4 L390,98.9 L391.2,100.1 L392.1,99 L393.2,99.1 L394.3,99.6 L395.3,99 L396.6,98.2 L397.3,100.3 L398.4,99.9 L399.7,99.3 L400.7,99.3 L401.7,100.2 L402.6,101.2 L403.6,101.7 L405,99.9 L405.9,101.1"/>
<path class="l" d="M411.1,20 L410,20.9 L411.8,22.2 L411.4,23.2 L412.3,24.4 L411.5,25.4 L409.5,26.2 L410.4,27.4 L410.1,28.4 L411.9,28.7 L412.6,29.5 L410.1,31.9 L413.4,31.5 L412.5,33.1 L412.9,34.1 L413.8,34.8 L414.6,35.6 L414.3,36.9 L415.2,37.7 L415.3,38.9 L415.7,40 L414.5,41.6 L414.9,42.7 L418.1,42.7 L417.8,44 L417.4,45.3 L418.6,46.9 L416.6,47.4 L415.7,48.2 L415.8,49.5 L416.9,51.1 L415.7,51.8 L415.8,53.1 L414.3,53.7 L413.1,54.4 L412.4,55.4 L412.7,56.7 L412.6,57.9 L410.9,58.4 L411.5,59.9 L412.5,61.4 L411.1,62.1 L410.6,63.8 L412.1,64 L412,65.4 L414.1,65 L414.3,66.2 L414.7,67.2 L415.6,67.8 L416.4,68.5 L418,67.6 L418.8,68.5 L419.4,69.4 L420.9,68.8 L421.8,69.3 L421.7,71.9 L422.4,72.9 L423.5,73 L424.8,72.7 L425.8,72.1 L427.2,73.5 L427.9,71.6 L428.6,70.1 L429.9,70.7 L431.4,72.5 L432.5,72.2 L433.2,70.6 L434.7,71.2 L435,69.3 L435.6,68.2 L437,68.5 L438.1,68.4 L438.8,67.4 L440,67.4"/>
<path class="l" d="M416.4,67.4 L417.3,66.5 L418.5,66.4 L419.5,65.8 L420.7,65.8 L421.7,65.3 L422.2,66.2 L422.3,67.3 L422.5,68.4 L423.7,68.9 L423.9,70 L424.8,70.6 L423.6,70 L422.7,70.6 L421.4,69.8 L420.5,70.9 L419.6,71.6"/>
<path class="l" d="M358.5,123.2 L358.3,121.6 L359.1,120.5 L359.5,119.2 L361,118.4 L361,117 L362,115.9 L362.7,114.8 L364.1,115.7 L365.5,114.9 L366.9,113.8 L368.3,114.5 L369.7,114.9 L371.1,114.8 L372.2,116.2 L371,118.1 L372.1,119.5 L372.2,121.1 L371.6,122.3 L370.7,123.3 L370.2,124.6 L369,125.3 L370.2,126 L370.9,127.3 L371.9,128.2 L373,129 L374.3,129.5 L372.8,130.1 L372.8,131.7 L371.6,132.5 L370.5,133.4 L370.1,134.8 L369.2,133.7 L367.5,133.9 L367.4,131.7 L365.8,131.6 L365.4,130.1 L363.3,130.1 L362.9,128.6 L361.5,127.9 L361.9,125.8 L360.2,125.4 L359.5,124.2 L358.5,123.2"/>
<path class="l" d="M361.6,119 L362.4,120.3 L364.1,120.7 L364.4,122.5 L365.8,123.2 L366.2,121.5 L365.3,120.2 L363.9,119 L364.9,117.1 L363.7,115.9"/>
<path class="l" d="M375.3,111.6 L376.7,111.4 L378.3,112 L379.7,111.3 L381.1,111.3 L382.5,110.2 L384,110.6 L385.5,111.5 L386.9,110.6 L387.4,112.1 L386.6,113.9 L387.2,115.4 L388,116.9 L386.5,117.4 L386.2,118.9 L385.6,120.2 L385,121.6 L383.8,122.3 L382.7,123.2 L382,124.4 L381.9,126 L380.7,126.9 L380.4,128.4 L379.5,129.5 L379,128.2 L378.1,127 L377.1,126 L376.9,124.5 L376.4,123.2 L376.7,121.7 L375.3,120.4 L375.8,118.9 L376,117.4 L374.8,116 L375.4,114.5 L375.2,113.1 L375.3,111.6"/>
<path class="l" d="M396.4,110.6 L397.9,110.2 L399.5,110.8 L400.9,110.3 L402.2,108.9 L403.8,109.5 L404.8,110.8 L406.1,111.5 L407.8,111.7 L409,112.7 L407.9,113.7 L408.2,115.4 L406.8,116.3 L407.3,118.1 L405.9,119 L406.8,120.3 L405.9,122 L406.5,123.3 L408.2,124.4 L407.1,126.1 L408,127.4 L407.7,128.7 L407,129.9 L406.9,131.3 L405.3,132.1 L405.2,133.5 L404.8,134.8 L403.4,135.3 L402,135.7 L400.6,134.8 L399.2,135.8 L397.8,134.3 L396.4,134.8 L395,134.2 L393.9,133.3 L394.6,131.1 L392.9,130.6 L392.2,129.5 L391.8,128.1 L392.8,126.9 L391.8,125.5 L393.5,124.3 L392,122.9 L393.5,121.7 L393.2,120.3 L393.2,119 L393,117.3 L394.9,116.4 L394.4,114.6 L395.3,113.4 L396.7,112.3 L396.4,110.6"/>
<path class="l" d="M403.8,113.7 L403.2,115.3 L404.3,115.8 L406.1,115.9 L406.6,116.8 L406.5,118.1 L406.9,119 L405.2,119.6 L405.6,120.9 L406,122.2 L404.1,122.7 L406.2,124.6 L404.8,125.3 L404.4,126.8 L404.8,127.9 L405,129.1 L406.9,129.5"/>
<path class="l" d="M410.1,108.5 L411.2,108.4 L412,107.1 L413.3,108 L414.5,108.7 L415.6,108.6 L416.6,108.4 L417.5,107.4 L418.8,108.3 L419.5,106.6 L420.6,106.4 L421.9,106.7 L422.2,108 L422.2,109.5 L422.7,110.6 L425.4,109.5 L424.1,112.4 L425.5,112.5 L426.9,112.7 L428.2,112.5 L429.5,112.2 L429,115.6 L431.4,113 L431.2,115.8 L432.1,116.4 L433.3,116.3 L434.2,117 L435.4,116.9 L436.6,116.7 L436.7,118.9 L438.6,117.3 L438.5,119.9 L440,119"/>
<path class="l" d="M416.4,118 L417.3,118.9 L418.6,117.9 L419.2,120.1 L420.3,120.2 L421.6,119.4 L422.6,120 L423.6,120.6 L424.8,120.1 L423.8,120.4 L422.4,119.4 L421.4,119.8 L420.6,121.1"/>
<path class="l" d="M424.8,133.8 L425.7,135.1 L426.7,135.6 L427.8,135.4 L428.8,135.7 L429.8,136.3 L431,135.8 L432,136.5 L433.4,134.7 L434.2,136.5 L435.4,135.9 L436.2,136.5 L437.5,136.2 L438.2,137 L439.3,137.1 L440,138"/>
<path class="l" d="M374.3,129.5 L375.3,130.5 L376,131.7 L376.9,132.8 L376.1,134.7 L377.7,135.4 L378.3,136.6 L378.5,138 L378.6,139.6 L380.2,140 L380.9,141.2 L382.3,141.7 L382.8,143 L383.4,144.1 L384.7,144.8 L384.8,146.4 L386.2,147.1 L387,148.4 L387.5,150 L389,150.6 L387.6,151.2 L386.8,152.8 L385.1,152.9 L383.4,153.2 L382.7,154.8 L381.6,153.6 L380.3,153 L378.4,153 L377.2,152.1 L376.4,150.6 L375.5,149.4 L375.8,148 L375.3,146.7 L376.2,145.2 L374.4,144.2 L374.9,142.7 L374.1,141.5 L374.3,140.1 L373.7,138.8 L375.3,137.4 L374.9,136.1 L373.3,134.8 L373.3,133.5 L374,132.2 L373.7,130.8 L374.3,129.5"/>
<path class="l" d="M366.9,156.9 L368,155.8 L368.8,154.5 L369.5,153.1 L370.8,152.2 L371.1,150.6 L372.3,151.3 L373.9,151.5 L374.5,153.3 L376.3,153 L377.1,154.4 L378.5,154.8 L379.2,156.2 L381.2,156.3 L381.4,158.2 L382.7,159 L381,159.4 L380.3,160.8 L379.9,162.6 L378.8,163.6 L377.5,164.4 L376.4,165.4 L375,165.5 L374.1,163.9 L372.5,164.5 L371.4,163.6 L370.1,163.2 L368.8,162.3 L369,160.6 L367.9,159.6 L368.4,157.7 L366.9,156.9"/>
<path class="l" d="M395.3,138 L396.6,138.5 L397,140.2 L398.1,140.9 L399,141.8 L400.6,141.9 L401.7,142.7 L402.3,144.2 L403.8,144.3 L403.5,145.9 L404,147.3 L405.7,148.1 L405.9,149.5 L405.7,151.1 L407.4,152 L407.7,153.4 L408,154.8 L408,156.2 L408.8,157.3 L409.1,158.6 L409.7,159.8 L410,161 L410.8,162.2 L410.4,163.6 L411.2,164.8 L410.4,166.3 L411.1,167.5 L410.2,168.4 L409.1,169.3 L409.2,171 L408,171.7"/>
<path class="l" d="M412.2,142.2 L413.7,142.2 L415,142.9 L416.7,142.2 L418,142.6 L419.5,142.8 L420.6,144.3 L420.3,146 L422.6,146.5 L423.2,147.8 L422,149.8 L424,150.6 L424.5,151.9 L423.7,153.7 L424.8,154.8 L425.8,155.9 L425.2,157.7 L425.9,159 L426.3,160.3 L426.9,161.6 L428.9,162.4 L427.7,164.4 L429,165.4 L428.2,166.7 L426.8,167.6 L426.5,169.2 L425.1,170.1 L424.8,171.7 L423.6,172.4 L422.9,173.8 L421.6,174.4 L419.6,173.4 L418.9,174.9 L417.7,175.6 L416.4,175.9"/>
<path class="l" d="M418.5,146.4 L419.3,147.7 L420.6,148.5 L421.3,149.9 L422.7,150.6 L422.6,152.1 L420.8,152.5 L420,153.4 L419.6,154.8"/>
<path class="k2" d="M216.3,310.4 L218.4,317.1 L218,324.4 L215.5,331.7 L213.6,333.8"/>
<path class="l" d="M212.6,302.5 L213.3,303.3 L212.8,304.6 L213.9,305.2 L214.5,306.1 L215.4,306.7 L214.9,308.1 L215.7,308.8 L215.9,310 L213.9,310.5 L215.2,312.1 L213.3,312.6 L214.9,314.3 L213.6,315 L214.2,315.8 L214.4,316.9 L214,318.2 L214.7,319 L216.3,319.3 L216.1,320.5 L216.8,321.3 L215.5,321.7 L216.2,323.5 L214.4,323.6 L213.8,324.5 L212.9,325.2 L213.8,327.1 L212.6,327.6 L211.9,328.6 L212.4,329.7 L211,330.6 L211.3,331.7 L213,333 L210.6,333.7 L211.5,334.9"/>
<path class="l" d="M206.3,290 L205.8,291.7 L207.5,291.7 L208.1,292.6 L208.9,293.3 L210.2,293.6 L211.2,294.1 L211,295.6 L211.3,296.6 L211.3,298 L212.6,298.3 L213.4,299.1 L212.1,300.7 L214.8,300.7 L213.7,302.3 L215.8,302.5 L215.7,303.7 L216.3,304.6 L214.3,306.5 L215.5,307.1 L216.3,307.9 L216.8,308.8"/>
<path class="l" d="M196.9,292.1 L198.6,292.4 L196.6,294.6 L199.2,294.5 L197.5,296.6 L198.1,297.4 L200.4,297.4 L200.2,298.7 L201,299.5 L201.5,300.5 L200.9,301.9 L202.2,302.5 L201.7,303.8 L203.6,304.1 L203.2,305.4 L203.2,306.5 L203.8,307.4 L205.5,307.8 L205.1,309.1 L205.2,310.1 L204.4,311.6 L205,312.4 L206.3,313"/>
<path class="l" d="M555,402.5 L555.3,403.4 L556.8,403.6 L557.1,404.5 L557.5,405.3 L557.1,406.6 L556.8,407.8 L558.3,408.1 L558.8,408.8 L557.5,409.2 L558.5,410.7 L557.7,411.4 L556.4,411.8 L555.6,412.5 L556.2,413.8 L557.7,414 L558,415.1 L559,415.6 L559.5,416.6 L559,418.2 L560,418.8"/>
<path class="l" d="M560,403.8 L559.6,405.1 L561.6,404.9 L562.6,405.4 L562.1,406.8 L561.1,408.5 L563.8,407.9 L563.2,409.3 L563.8,410 L563.5,410.9 L564.3,412 L563.8,412.8 L563.7,413.7 L562.1,414.3 L562.3,415.2 L562.5,416.2"/>
<path class="l" d="M552.5,405 L552.5,406 L552.9,406.9 L554.9,406.9 L555,407.9 L553.4,409.8 L555.7,409.6 L554.9,411.1 L555.9,411.6 L556.2,412.5 L556,414.2 L557.4,414.4 L558.8,414.4 L559.9,414.8 L560,416.2 L559.3,415.4 L560.6,414.1 L560.7,413.1 L559.9,412.3 L558,411.7 L559.3,410.5 L557.9,409.8 L559.2,408.6 L557.5,407.9 L557.1,407 L556.8,406.1 L557.5,405"/>
<path class="l" d="M567.5,430 L568,430.9 L567.6,432.5 L569.6,432.2 L569.1,433.8 L571.4,433.3 L572.1,433.9 L572.3,435.1 L572.5,436.2 L573.6,437.7 L571.9,438.1 L571.7,439 L570.8,439.7 L569.5,440.2 L571.5,442 L570,442.5 L571.3,442.6 L571.4,443.9 L571.9,444.9 L573.5,444.7 L573.5,446.1 L574.9,446.2 L575,447.5 L575,448.6 L575,449.6 L574.3,450.3 L573.3,450.8 L572.2,451.3 L571.8,452.1 L570.9,452.8 L573,454.9 L571.2,455"/>
<path class="l" d="M566.2,433.8 L567.5,434 L568.3,434.7 L569.2,435.3 L568.4,437.1 L569.9,437.2 L570.6,437.9 L570.5,439.3 L571.2,440 L571,440.9 L570.2,441.6 L571,443 L570.9,443.9 L570.2,444.7 L570.4,445.8 L568.8,446.2 L570,446.5 L570.6,447.3 L571.3,448.1 L571.6,449.1 L571.2,450.7 L572.5,451 L573,451.8 L573.8,452.5"/>
<path class="l" d="M567.5,380 L568.4,379.4 L569.3,378.9 L570,377.9 L571.3,378.2 L571.9,377 L572.9,376.7 L573.9,376.3 L575,376.2 L576,375.9 L576.4,374.6 L577.3,374 L578.2,373.5 L579.2,373.1 L580.3,373 L581.2,372.5"/>
<path class="l" d="M583.8,360 L585,359.3 L585.6,361.3 L587,359.8 L587.9,360.6 L588.8,361.2 L587.9,362 L587.7,363 L588.6,364.3 L587.8,365.2 L587.5,366.2 L586,366.1 L585.9,364.6 L585,363.8"/>
<path class="l" d="M577.5,340 L577.9,339.2 L579,338.8 L578.6,337.5 L578.5,336.4 L580,336.2 L580.8,335.7 L580.6,334.5 L581.2,333.8 L581.5,332.6 L582.3,331.9 L582.9,331 L584.2,330.7 L585,330 L586.4,329.5 L587,328.7 L587.3,327.8 L585.1,325.9 L586.8,325.6 L587.8,324.9 L587.5,323.8 L587.9,322.7 L588.5,321.8 L589,320.8 L589.4,319.7 L591.2,320 L593,320.1 L593.1,318.8 L593.8,318 L594.4,317.2 L595.3,316.5 L595,315"/>
<path class="l" d="M457.5,540 L458.4,540.3 L459,541.2 L460.1,541.1 L461.1,541.2 L461.8,541.9 L462.5,542.5 L462.6,540.9 L464.2,541.3 L465.5,541.3 L465.6,539.7 L466.9,539.7 L467.5,538.8 L468.3,539.4 L469.2,539.5 L470.4,539.1 L470.9,540.3 L471.7,540.8 L472.5,541.2 L473.4,542.7 L470.7,542.4 L470.6,543.4 L470.5,544.4 L471.1,545.7 L470,546.2 L471.1,546.3 L472.2,546.8 L473,545.3 L474.3,546.4 L475,545 L476.3,544.6 L474.9,542.9 L476,542.4 L475.6,541.1 L477.3,540.9 L477.5,540"/>
<path class="l" d="M460,536.2 L461,535.9 L462,535.7 L462.6,536.9 L463.6,536.8 L464.2,538.2 L465.1,538.4 L466.2,537.5 L467.5,538 L467.8,536.6 L469,536.8 L469.7,536.2 L470.3,535.3 L471.2,535 L472.3,535.4 L471.7,536.9 L472,537.8 L472.4,538.7 L473.8,538.8"/>
<path class="l" d="M445,543.8 L445.4,545 L446.3,545.5 L447.6,545.5 L448.9,545.6 L449.4,546.5 L450,547.5 L450.5,548.8 L452,547.6 L452.9,548 L453.5,549 L454.2,549.9 L455.5,549.1 L456.2,550 L457,549.3 L457.9,549.1 L459,550.1 L459.7,549 L460.8,549.8 L461.6,548.9 L462.5,548.8 L463.5,548.6 L464.5,548.6 L465.4,548.2 L465.8,547 L466.9,547.2 L467.5,546.2"/>
<path class="l" d="M392.5,575 L393.5,574.6 L394,573.8 L393.3,572.3 L394.1,571.7 L395.1,571.3 L395.8,570.7 L396.8,570.3 L397.4,569.6 L396.6,568 L397.5,567.5 L398.7,567.6 L398.9,566.3 L399.4,565.4 L399.9,564.6 L400.9,564.5 L402.3,565 L402.2,563.1 L403.4,563.3 L404,562.6 L405,562.5 L405.2,561.2 L405.8,560.4 L406.7,560 L408.1,560 L408.9,559.5 L409,558.2 L410.6,558.5 L411.8,558.4 L412.5,557.7 L412.5,556.2 L412.5,554.8 L413.5,554.4 L413.9,553.4 L415.8,553.8 L416,552.6 L416.3,551.4 L417.5,551.2"/>
<path class="k" d="M415,550 L417,549 L418,551.5 L416,552.5"/>
<path class="k" d="M443.75,545.75 L446.25,545 L447,547.5 L444.5,548"/>
<path class="l" d="M255,122 L255,123.6 L256.2,123.2 L256.5,124.4 L258,123.5 L259.3,122.9 L259.1,124.9 L260,125 L260.6,124.1 L262.2,125.2 L262.7,124.1 L263.8,124.2 L263.7,121.9 L265,122.5 L266.5,122 L265.9,124.3 L267.6,123.5 L267.2,125.5 L269.4,124 L269.2,125.8 L270,126.2 L270,124.6 L270.7,124.2 L272.8,125.9 L273.3,125 L274,124.5 L273.8,122.8 L275,123 L275.8,123.5 L276.3,124.7 L277.5,124.1 L277.9,125.5 L278.7,125.9 L280,125"/>
<path class="l" d="M257.5,124.5 L258,125.6 L259.2,124.7 L260.2,124.6 L260.3,126.6 L261.3,126.4 L262.1,126.7 L263,126.6 L263.8,127 L265,127.8 L265.5,126.8 L266.2,126.3 L267.3,126.6 L267.9,126 L268.8,126 L269.5,125.6 L270,124.5 L270.5,125.5 L271.3,125.6 L272.2,125.7 L273.5,124.6 L273.8,126.2 L274.3,127.3 L275.2,127.2 L276.2,127"/>
<path class="l" d="M285,130 L286,130.6 L285.8,131.7 L286.1,132.6 L286.2,133.5 L287.3,134.1 L287.5,135 L288.1,133.6 L289.5,134.9 L290.1,133.5 L291.2,133.8 L290.7,134.6 L291.3,135.9 L291,136.8 L290,137.5"/>
<path class="l" d="M416.2,0 L417.8,1.3 L417.2,2.2 L414.6,2.5 L417.1,4.1 L416.7,4.9 L413.8,5.2 L413.8,6.2 L415.2,7.5 L415.5,8.5 L412.5,8.7 L413.8,10 L415.5,11.1 L414.7,12 L413.9,12.8 L412.6,13.5 L411.6,14.3 L413,15.4 L414.3,16.5 L414,17.4 L412.2,18.1 L412.5,19.1 L412.5,20 L412,20.8 L410.9,21.5 L410.6,22.4 L411.2,23.5 L412.7,24.9 L409.9,25.2 L410.7,26.3 L410.1,27.1 L411.1,28.3 L410,29 L410,30 L411.4,30.5 L408.9,32.5 L412.5,32.2 L412,33.4 L410.4,35.1 L412.4,35.3 L411.5,36.7 L413.1,37.2 L414.6,37.6 L413.7,39 L413.8,40 L414.5,40.8 L413.4,42 L413.5,43 L413.9,43.8 L416,44.3 L416.9,45 L416.5,46.1 L416.7,47 L415.7,48.2 L416.8,48.9 L416.2,50 L414.5,50.2 L416.8,52.4 L414.6,52.3 L416.1,54.1 L415.7,55 L413.1,54.7 L414.9,56.7 L412.9,56.7 L411.7,57.1 L412,58.3 L410.2,58.5 L411.2,60 L411.4,61.4 L413.6,60 L412.8,62.8 L413.7,63.3 L415.5,62.4 L416.8,62.3 L417.4,63.1 L416.5,66.1 L418.2,65.4 L418.4,66.7 L420,66.2 L421.7,66 L422.3,66.8 L423.2,67.3 L423.1,68.6 L423.8,69.3 L424.7,69.8 L423.6,72 L424.9,72.2 L425.7,72.7 L427.5,72.5 L425.9,75.1 L427.5,75 L428.1,74.1 L429,73.7 L429.3,72.5 L429.2,71 L430.5,71 L432.3,71.7 L432.7,70.6 L432.5,68.9 L435.4,70.8 L435,68.8 L435.7,67.1 L437,70.2 L437.5,67.3 L438.4,67.2 L439.3,66.9 L440.3,67.5 L441.4,68.7 L442,66.5 L443.1,68.2 L443.9,67.4 L444.7,66.7 L445.8,68.1 L446.8,68.4 L447.5,67 L447.9,68.4 L449.7,66.5 L450.3,67.4 L450.1,70.2 L452.1,67.7 L452.6,68.9 L453.2,69.7 L453.9,70.4 L454.3,71.8 L455.6,70.9 L456.5,71.2 L457.5,71.2 L458.4,71.5 L460,70.7 L459.5,73.1 L460.9,72.6 L461.4,73.5 L461.9,74.4 L462.3,75.5 L464.5,73.8 L465.4,74 L466,74.8 L466.9,75 L467.2,76.3 L467.5,77.5 L468.7,77.2 L469.6,77.5 L469.1,80.5 L470.2,80.4 L471.4,80.2 L472.4,80.2 L473.9,79.3 L474.1,80.9 L474.8,81.6 L475,83.3 L477.1,81.3 L477.5,82.5 L478.4,81.8 L479.3,80.7 L480.2,83.1 L481.1,84 L482,81.3 L483,82.2 L483.9,83.8 L484.8,81.2 L485.7,83.9 L486.6,83.8 L487.5,82.5 L489.2,81.2 L489.5,82.6 L489.5,84.7 L491,83.9 L492.3,83.3 L493.3,83.3 L493.9,84.2 L493.4,87.3 L494.4,87.4 L496.4,85.5 L496.9,86.5 L497.5,87.5 L496.6,89.2 L498.1,89.3 L499.5,89.5 L497.9,91.6 L501.3,90.5 L499.8,92.5 L502.6,91.8 L500.2,94.4 L501.6,94.6 L502,95.4 L504.2,95.1 L503.4,96.7 L503.8,97.5 L504.8,97.8 L505.5,98.5 L505.6,99.8 L507.2,99.4 L506.5,101.8 L507.9,101.6 L508.3,102.6 L510.8,101.2 L511.5,101.7 L510.3,104.6 L513.1,102.9 L512.5,105 L513,105.8 L515.1,105.3 L515.1,106.6 L513.9,108.9 L514.2,109.9 L517.1,108.7 L518,109.1 L518.1,110.4 L518.3,111.4 L519.5,111.7 L520.2,112.4 L520,113.8 L521.5,112.6 L522.5,112.8 L523.3,113.4 L523.1,116.6 L524.5,115.7 L526.1,114.1 L526.3,116.5 L527.2,116.6 L528.4,116.2 L528.7,118.3 L530,117.5 L530.7,118.6 L531.3,119.7 L532.9,117.2 L533.3,119.4 L534.6,118.2 L535.7,117.4 L536.2,119.1 L537.4,118.2 L537.6,121 L539,119.3 L539.8,120"/>
<path class="l" d="M406.2,110 L407,109.1 L408.3,110 L409.4,110 L409.8,108.1 L410.7,107.7 L412.4,109.7 L412.5,106.7 L413.8,107.5 L414.6,107.9 L415.2,109 L416.2,109 L416.9,109.9 L418,109.2 L419,109 L419.3,111.2 L420.8,109.5 L421.9,108.9 L422.5,110 L422.9,111.3 L421.9,111.8 L422.4,113.1 L421,113.4 L419.2,113.4 L420.6,115.3 L418.4,115.1 L418.1,116 L416.8,116.3 L417.1,117.5 L417.5,118.8 L418.9,120.3 L419.2,117.7 L420.4,118.7 L421.3,118.4 L422.3,118.8 L423.1,117.9 L423.4,115.5 L424.8,117.2 L425.2,115 L426.2,115 L427.5,116.2 L428.6,115.2 L429.6,115.3 L430,118.6 L431.4,115.9 L432.3,116.4 L433.2,116.9 L433.9,118.1 L435,117.5 L435.8,118 L436.6,119 L437.4,119.5 L438.7,118 L439.9,117.2 L440.3,119.4 L440.9,120.8 L442.2,119.5 L443.1,119.8 L443.9,120.6 L445,120 L446.4,118.3 L447.3,118.7 L447.9,120.1 L448.8,120.2 L449.4,121.7 L450.8,119.9 L451.2,122.1 L452.6,120.4 L452.8,123.6 L453.6,124.1 L455,122.5 L456.9,121.6 L456.3,124 L458.1,123.2 L458.1,124.8 L459.3,124.7 L460.1,125.4 L461.5,125 L460,128.7 L460.9,129 L463,127.9 L463.7,128.6 L463.3,130.6 L465,130 L465.4,131.7 L466.7,130.9 L467.9,130.7 L468.2,132.7 L469.8,131 L470.9,131 L471.1,133.1 L472.6,131.9 L473.5,132.4 L474.4,132.6 L475,133.8 L475.7,135.6 L476.8,134.3 L477.9,132.6 L478.7,133.3 L479.5,134.7 L480.5,134.3 L481.4,134.2 L482.3,134.6 L483.3,134.1 L484.1,134.9 L485,135 L486,134.9 L487.1,134.4 L488.1,134.4 L488.7,136.7 L489.8,136.4 L490.9,135.3 L491.8,135.9 L492.6,137.5 L493.8,136.2"/>
<path class="l" d="M477.5,150 L478.8,150.1 L478.8,151.4 L479.2,152.4 L480.5,152.5 L480.5,153.9 L480.8,154.9 L482.6,154.5 L482.8,155.6 L483.8,156 L485.4,155.7 L485,157.5 L485.5,158.5 L486.4,158.8 L487.2,159.3 L487.6,160.6 L489.3,159.4 L489.4,161.3 L491.5,159 L492.3,159.6 L492.2,161.8 L493.9,160.5 L494.2,162.1 L495,162.5 L494.7,164.2 L495.6,164.6 L497.5,164.1 L498.8,164.1 L498,166.3 L498.7,167 L500.2,166.8 L501.2,167.2 L501.6,168.1 L501.5,169.6 L502.5,170 L501.2,170.1 L501.3,171.7 L499.4,171.2 L499,172.2 L498.1,172.8 L498.7,174.8 L497.5,175 L496.9,173.4 L495.7,174.6 L494.7,174.8 L493.9,173.9 L492.8,174.3 L492.2,173.1 L491.4,172.5 L490.5,172.1 L489.1,173.8 L488.6,171.8 L487.5,172.5 L486.6,172.8 L486.2,174.1 L485.2,174.1 L484.7,175.3 L483,173.9 L483.1,176.1 L482.4,176.8 L481.5,177.2 L479.6,175.5 L479.4,177.1 L478.9,178.1 L477.5,177.5 L476.4,178.2 L475.7,177 L474.5,177.7 L473.8,176.9 L473.2,175.2 L472.4,174.6 L471,176.4 L470.1,176.3 L469.3,175.6 L468.2,176.2 L467.5,175"/>
<path class="l" d="M551.5,55 L552.5,55.7 L551.3,57.1 L552,57.9 L553.4,58.4 L554,59.2 L553.4,60.5 L553.3,61.6 L555,62 L552.9,63.8 L555.4,63.9 L555.2,65 L556.6,66.3 L555.4,67 L553,67.4 L553.9,68.5 L552.6,69.2 L552.2,70 L552.3,71 L553.2,72.2 L554.2,73.4 L551.4,73.7 L552.8,75 L553,75.9 L553.9,76.7 L553.1,77.7 L554.3,78.5 L553,79.6 L551.8,80.7 L553.8,81.3 L552.6,82.4 L553.1,83.3 L553.4,84.2 L554,85 L555.4,84.8 L554.9,87 L555.8,87.5 L557.5,86.9 L558.3,87.5 L558.2,89 L558.1,90.7 L559.8,90.2 L561.4,89.8 L561.5,91.2 L560.7,92.8 L562.4,92.8 L562.4,93.9 L564,93.9 L564.6,94.6 L565.9,94.8 L566.4,95.6 L566.4,96.6 L565.1,98.6 L565.5,99.4 L567.6,99.1 L568.4,99.7 L567.5,101.3 L568.4,101.8 L569,102.5 L569.3,103.6 L569.8,104.5 L572.1,103.3 L571.1,106 L573.4,104.7 L574.2,105.3 L573.9,107.1 L574.7,107.7 L574.8,109.1 L576.6,108.4 L576.8,109.7 L577.8,110 L577.8,111.3 L579.3,111.2 L581.1,110.8 L580.4,112.9 L582.3,112.3 L583,113 L582.6,114.7 L582.5,116.2 L584.2,115.8 L583.4,118 L585.2,117.5 L585.2,118.7 L586.8,118.8 L586.8,120 L586.7,121.3 L588.4,121.4 L588.5,122.5 L587.2,122.2 L587.8,125 L585.6,123.4 L585.3,124.6 L584,124.5 L584.2,126.5 L582.8,126.2 L581.8,125.9 L581.1,124.4 L579.9,125.8 L578.8,126.4 L578.1,124.1 L577,124.8 L576.1,124.1 L574.8,126.5 L574,125 L573.6,125.9 L573,126.6 L573.4,127.8 L571.3,127.8 L570.9,128.7 L572.6,130.6 L571.4,131 L572.1,132.4 L570.2,132.5 L569,133.8 L568.3,131.7 L567.2,132.9 L566.6,130.3 L565.5,130.8 L564.4,131.4 L563.5,130.8 L562.3,132.5 L561.5,131.2 L560.5,131.8 L559.6,131.8 L558.6,132.4 L557.9,130.8 L557,130.1 L556.1,130.5 L555.3,129.1 L554.4,129 L553.4,129.7 L552.2,131.7 L551.5,130 L550.7,129.4 L549.5,129.8 L548.4,129.9 L547.9,128.3 L547.2,127.2 L545.7,128.8 L545,127.7 L544,127.5 L543.9,125.7 L541.7,128 L540.9,127.5 L541.3,124.5 L540.3,124.4 L539,125"/>
<path class="l" d="M567.8,18.8 L567.6,20.4 L568.7,20.7 L570.1,20.6 L570.4,21.7 L571,22.5 L572.5,22.3 L571.6,24.7 L572.2,25.4 L574,25 L574.3,23.8 L575.5,24 L575.7,22.6 L577.3,23.4 L578.4,23.5 L578.1,21.2 L578.7,20.5 L580.2,21.2 L581.2,21.6 L581.9,22.7 L583.5,20.6 L584.3,21.8 L585.2,22.5 L586.2,22 L587.1,22.4 L587.6,24.4 L588.6,24.3 L589.5,24.4 L590.6,23.7 L591.5,23.8"/>
<path class="l" d="M495,0 L495.4,1.3 L495.8,2.5 L497.6,1 L497.8,2.7 L498.9,2.6 L499.8,2.9 L500.3,4.1 L501.1,4.4 L501.8,5.1 L503.6,3.5 L503.3,6.3 L505,5 L506.8,5.1 L505.9,6.6 L506.4,7.4 L507.5,7.9 L508.4,8.5 L508.6,9.4 L508.3,10.6 L508.3,11.7 L507.7,13 L508.4,13.7 L508,14.9 L510,15 L510,14 L510.1,12.9 L510.8,11.6 L509.9,10.9 L506.8,10.9 L508.3,9.3 L507.3,8.6 L507.5,7.5 L507.2,9.6 L508.5,9.2 L509.4,9.5 L509.7,10.7 L511.9,9 L511.3,11.5 L513.6,9.8 L513.6,11.3 L513.8,12.6 L515,12.5 L515.8,11.7 L517.3,13.3 L517.6,10.9 L519.4,13.1 L520.1,12.1 L520.9,11.4 L521.8,11 L522.5,10 L523.7,10.9 L524.2,9.1 L525.4,10.2 L526.2,9.4 L527.4,10.4 L527.9,8.5 L528.4,6.6 L529.5,7.2 L530.7,8.1 L531.2,6.3 L532.5,7.5 L531.2,8.1 L530.3,8.9 L532.9,10.5 L531.1,11 L530.1,11.7 L529.6,12.6 L529.8,13.6 L530.5,14.7 L531.2,15.9 L529.1,16.3 L530,17.5 L530.7,19 L530.1,19.7 L529.6,20.5 L526.8,19.7 L528.2,21.7 L526.9,21.9 L525.5,22.1 L527.6,24.6 L524.8,23.8 L525,25"/>
</g></g>
<text x="204" y="360" font-size="14" class="lab" text-anchor="start" textLength="16" lengthAdjust="spacingAndGlyphs">33</text>
<text x="212.5" y="377.5" font-size="14" class="lab" text-anchor="start" textLength="16" lengthAdjust="spacingAndGlyphs">40</text>
<text x="204" y="412.5" font-size="14" class="lab" text-anchor="start" textLength="16" lengthAdjust="spacingAndGlyphs">50</text>
<text x="194" y="452.5" font-size="14" class="lab" text-anchor="start" textLength="16" lengthAdjust="spacingAndGlyphs">60</text>
<text x="229.5" y="467" font-size="14" class="lab" text-anchor="start" textLength="16" lengthAdjust="spacingAndGlyphs">60</text>
<text x="252.5" y="455" font-size="14" class="lab" text-anchor="start" textLength="16" lengthAdjust="spacingAndGlyphs">50</text>
<text x="275" y="405" font-size="14" class="lab" text-anchor="start" textLength="16" lengthAdjust="spacingAndGlyphs">40</text>
<text x="314" y="530" font-size="14" class="lab" text-anchor="start" textLength="16" lengthAdjust="spacingAndGlyphs">40</text>
<text x="327.5" y="549" font-size="14" class="lab" text-anchor="start" textLength="16" lengthAdjust="spacingAndGlyphs">33</text>
<text x="416" y="406" font-size="14" class="lab" text-anchor="start" textLength="16" lengthAdjust="spacingAndGlyphs">33</text>
<text x="517.5" y="411" font-size="14" class="lab" text-anchor="start" textLength="16" lengthAdjust="spacingAndGlyphs">40</text>
<text x="524" y="425" font-size="14" class="lab" text-anchor="start" textLength="16" lengthAdjust="spacingAndGlyphs">50</text>
<text x="520" y="462.5" font-size="14" class="lab" text-anchor="start" textLength="16" lengthAdjust="spacingAndGlyphs">60</text>
<text x="445" y="471" font-size="14" class="lab" text-anchor="start" textLength="16" lengthAdjust="spacingAndGlyphs">40</text>
<text x="461" y="471" font-size="14" class="lab" text-anchor="start" textLength="16" lengthAdjust="spacingAndGlyphs">50</text>
<text x="491" y="494" font-size="14" class="lab" text-anchor="start" textLength="16" lengthAdjust="spacingAndGlyphs">60</text>
<text x="384" y="561" font-size="14" class="lab" text-anchor="start" textLength="16" lengthAdjust="spacingAndGlyphs">33</text>
<text x="374" y="570" font-size="14" class="lab" text-anchor="start" textLength="16" lengthAdjust="spacingAndGlyphs">40</text>
<text x="189" y="120" font-size="14" class="lab" text-anchor="start" textLength="16" lengthAdjust="spacingAndGlyphs">33</text>
<text x="190" y="136" font-size="14" class="lab" text-anchor="start" textLength="16" lengthAdjust="spacingAndGlyphs">40</text>
<text x="149" y="122.5" font-size="14" class="lab" text-anchor="start" textLength="16" lengthAdjust="spacingAndGlyphs">50</text>
<text x="139" y="129" font-size="14" class="lab" text-anchor="start" textLength="16" lengthAdjust="spacingAndGlyphs">60</text>
<text x="174" y="406" font-size="10.5" class="lab" text-anchor="start" >70</text>
<text x="269" y="354.5" font-size="10.5" class="lab" text-anchor="start" >60</text>
<text x="256" y="397.5" font-size="10.5" class="lab" text-anchor="start" >65</text>
<text x="260" y="436" font-size="10.5" class="lab" text-anchor="start" >70</text>
<text x="267.5" y="475" font-size="10.5" class="lab" text-anchor="start" >75</text>
<text x="166" y="444" font-size="10.5" class="lab" text-anchor="start" >65</text>
<text x="222.5" y="511" font-size="10.5" class="lab" text-anchor="start" >80</text>
<text x="395" y="514" font-size="10.5" class="lab" text-anchor="start" >80</text>
<text x="507.5" y="469" font-size="10.5" class="lab" text-anchor="start" >75</text>
<text x="503" y="407" font-size="10.5" class="lab" text-anchor="start" >70</text>
<text x="185" y="75" font-size="10.5" class="lab" text-anchor="start" >45</text>
<text x="199" y="64" font-size="10.5" class="lab" text-anchor="start" >40</text>
<text x="220" y="107.5" font-size="10.5" class="lab" text-anchor="start" >55</text>
<text x="161" y="130" font-size="10.5" class="lab" text-anchor="start" >55</text>
<text x="161" y="148" font-size="10.5" class="lab" text-anchor="start" >70</text>
<text x="120" y="79" font-size="10.5" class="lab" text-anchor="start" >30</text>
<text x="192" y="135" font-size="10.5" class="lab" text-anchor="start" >60</text>
<text x="201" y="197" font-size="10.5" class="lab" text-anchor="start" >5</text>
<text x="208.6" y="468.3" font-size="27" class="bigl" textLength="16.2" lengthAdjust="spacingAndGlyphs">A</text>
<text x="513.6" y="504.6" font-size="27" class="bigl" textLength="16.2" lengthAdjust="spacingAndGlyphs">A</text>
<text x="312.6" y="488.3" font-size="27" class="bigl" textLength="17.2" lengthAdjust="spacingAndGlyphs">B</text>
<text x="280.3" y="519.6" font-size="27" class="bigl" textLength="16.5" lengthAdjust="spacingAndGlyphs">N</text>
<text x="383.2" y="529.5" font-size="27" class="bigl" textLength="16.5" lengthAdjust="spacingAndGlyphs">N</text>
<text x="350.3" y="366.7" font-size="27" class="bigl" textLength="16.5" lengthAdjust="spacingAndGlyphs">N</text>
<text x="167.2" y="78" font-size="27" class="bigl" textLength="16.5" lengthAdjust="spacingAndGlyphs">N</text>
<text x="188.3" y="362.5" font-size="27" class="bigl" textLength="16.5" lengthAdjust="spacingAndGlyphs">N</text>
<text x="571.5" y="325.4" font-size="27" class="bigl" textLength="16.5" lengthAdjust="spacingAndGlyphs">N</text>
<text x="9.7" y="612.3" font-size="13.6" class="mono" textLength="166.4" lengthAdjust="spacingAndGlyphs" xml:space="preserve">6-10 DAY OUTLOOK</text>
<text x="9.7" y="626" font-size="13.6" class="mono" textLength="239.2" lengthAdjust="spacingAndGlyphs" xml:space="preserve">TEMPERATURE PROBABILITY</text>
<text x="9.7" y="640" font-size="13.6" class="mono" textLength="166.4" lengthAdjust="spacingAndGlyphs" xml:space="preserve">MADE  8 JUN 2015</text>
<text x="9.7" y="653.2" font-size="13.6" class="mono" textLength="249.6" lengthAdjust="spacingAndGlyphs" xml:space="preserve">VALID  JUN 14 - 18, 2015</text>
<text x="398.5" y="623.4" font-size="11" class="mono" textLength="283.7" lengthAdjust="spacingAndGlyphs" xml:space="preserve">DASHED BLACK LINES ARE CLIMATOLOGY</text>
<text x="398.5" y="634.3" font-size="11" class="mono" textLength="242.0" lengthAdjust="spacingAndGlyphs" xml:space="preserve">(DEG F) SHADED AREAS ARE FCST</text>
<text x="398.5" y="645.2" font-size="11" class="mono" textLength="300.4" lengthAdjust="spacingAndGlyphs" xml:space="preserve">VALUES ABOVE (A) OR BELOW (B) NORMAL</text>
<text x="398.5" y="656" font-size="11" class="mono" textLength="250.4" lengthAdjust="spacingAndGlyphs" xml:space="preserve">UNSHADED AREAS ARE NEAR-NORMAL</text>
<rect x="2.5" y="671.5" width="47.7" height="29" fill="#1e1245" stroke="#8a8a8a" stroke-width="1"/>
<rect x="50.2" y="671.5" width="47.7" height="29" fill="#231855" stroke="#8a8a8a" stroke-width="1"/>
<rect x="97.9" y="671.5" width="47.7" height="29" fill="#2e3d70" stroke="#8a8a8a" stroke-width="1"/>
<rect x="145.6" y="671.5" width="47.7" height="29" fill="#0560a8" stroke="#8a8a8a" stroke-width="1"/>
<rect x="193.3" y="671.5" width="47.7" height="29" fill="#3a9bdc" stroke="#8a8a8a" stroke-width="1"/>
<rect x="241.0" y="671.5" width="47.7" height="29" fill="#74b4e2" stroke="#8a8a8a" stroke-width="1"/>
<rect x="288.7" y="671.5" width="47.7" height="29" fill="#a3c3e4" stroke="#8a8a8a" stroke-width="1"/>
<rect x="336.4" y="671.5" width="47.7" height="29" fill="#ffffff" stroke="#8a8a8a" stroke-width="1"/>
<rect x="384.1" y="671.5" width="47.7" height="29" fill="#e8b365" stroke="#8a8a8a" stroke-width="1"/>
<rect x="431.8" y="671.5" width="47.7" height="29" fill="#e58c49" stroke="#8a8a8a" stroke-width="1"/>
<rect x="479.5" y="671.5" width="47.7" height="29" fill="#db5a30" stroke="#8a8a8a" stroke-width="1"/>
<rect x="527.2" y="671.5" width="47.7" height="29" fill="#cc2e27" stroke="#8a8a8a" stroke-width="1"/>
<rect x="574.9" y="671.5" width="47.7" height="29" fill="#d12f48" stroke="#8a8a8a" stroke-width="1"/>
<rect x="622.6" y="671.5" width="47.7" height="29" fill="#8b2c39" stroke="#8a8a8a" stroke-width="1"/>
<rect x="670.3" y="671.5" width="47.7" height="29" fill="#63222a" stroke="#8a8a8a" stroke-width="1"/>
<text x="53.2" y="716.7" font-size="12.6" class="lg" text-anchor="middle" >90%</text>
<text x="100.9" y="716.7" font-size="12.6" class="lg" text-anchor="middle" >80%</text>
<text x="148.6" y="716.7" font-size="12.6" class="lg" text-anchor="middle" >70%</text>
<text x="196.3" y="716.7" font-size="12.6" class="lg" text-anchor="middle" >60%</text>
<text x="244.0" y="716.7" font-size="12.6" class="lg" text-anchor="middle" >50%</text>
<text x="291.7" y="716.7" font-size="12.6" class="lg" text-anchor="middle" >40%</text>
<text x="339.4" y="716.7" font-size="12.6" class="lg" text-anchor="middle" >33%</text>
<text x="387.1" y="716.7" font-size="12.6" class="lg" text-anchor="middle" >33%</text>
<text x="434.8" y="716.7" font-size="12.6" class="lg" text-anchor="middle" >40%</text>
<text x="482.5" y="716.7" font-size="12.6" class="lg" text-anchor="middle" >50%</text>
<text x="530.2" y="716.7" font-size="12.6" class="lg" text-anchor="middle" >60%</text>
<text x="577.9" y="716.7" font-size="12.6" class="lg" text-anchor="middle" >70%</text>
<text x="625.6" y="716.7" font-size="12.6" class="lg" text-anchor="middle" >80%</text>
<text x="673.3" y="716.7" font-size="12.6" class="lg" text-anchor="middle" >90%</text>
<text x="173" y="743.3" font-size="13" class="lg" text-anchor="middle" font-weight="bold" textLength="120.5" lengthAdjust="spacingAndGlyphs">Probability of Below</text>
<text x="553" y="743.3" font-size="13" class="lg" text-anchor="middle" font-weight="bold" textLength="121.5" lengthAdjust="spacingAndGlyphs">Probability of Above</text>
<text x="362" y="740" font-size="9.6" class="lg" text-anchor="middle" font-weight="bold" textLength="32" lengthAdjust="spacingAndGlyphs">Normal</text>
<path d="M337.5,727V756M385.5,727V756" stroke="#333" stroke-width="1" stroke-dasharray="2.5 1.5" fill="none"/>
<circle cx="41.9" cy="547.7" r="33.3" fill="#1b74bb"/>
<path fill="#fff" d="M8.85,539.64 C18.5,543.6 26.43,552.85 34.62,558.14 L31.18,561.84 C39.64,561.44 52.85,558.14 56.16,553.91 C63.42,548.89 68.71,542.28 72.28,533.69 A33.3 33.3 0 0 0 8.85,539.64Z"/>
<path fill="#1f1d6e" d="M14.8,528.28 A33.3 33.3 0 0 1 68.31,527.22 C65.41,539.64 55.5,550.87 43.6,553.12 C32.37,551.53 19.82,539.64 14.8,528.28Z"/>
<path fill="#fff" d="M31.18,561.84 C38.32,556.82 46.25,554.84 56.16,553.91 C50.21,556.82 39.64,560.78 31.18,561.84Z"/>
<text x="41.2" y="537" font-size="13.6" text-anchor="middle" textLength="27.7" lengthAdjust="spacingAndGlyphs" style="font-family:'Liberation Sans',sans-serif;font-weight:bold;fill:#fff">NOAA</text>
<path id="arcT" fill="none" d="M9.14,560.01 A35.0 35.0 0 1 1 74.66,560.01"/>
<path id="arcB" fill="none" d="M6.62,565.68 A39.6 39.6 0 0 0 77.18,565.68"/>
<text font-size="5.3" style="font-family:'Liberation Sans',sans-serif;fill:#2a2a3a" textLength="134" lengthAdjust="spacingAndGlyphs"><textPath href="#arcT" textLength="134" lengthAdjust="spacingAndGlyphs">NATIONAL OCEANIC AND ATMOSPHERIC ADMINISTRATION</textPath></text>
<text font-size="5.3" style="font-family:'Liberation Sans',sans-serif;fill:#2a2a3a" textLength="86" lengthAdjust="spacingAndGlyphs"><textPath href="#arcB" textLength="86" lengthAdjust="spacingAndGlyphs">U.S. DEPARTMENT OF COMMERCE</textPath></text>
</svg></body></html>
